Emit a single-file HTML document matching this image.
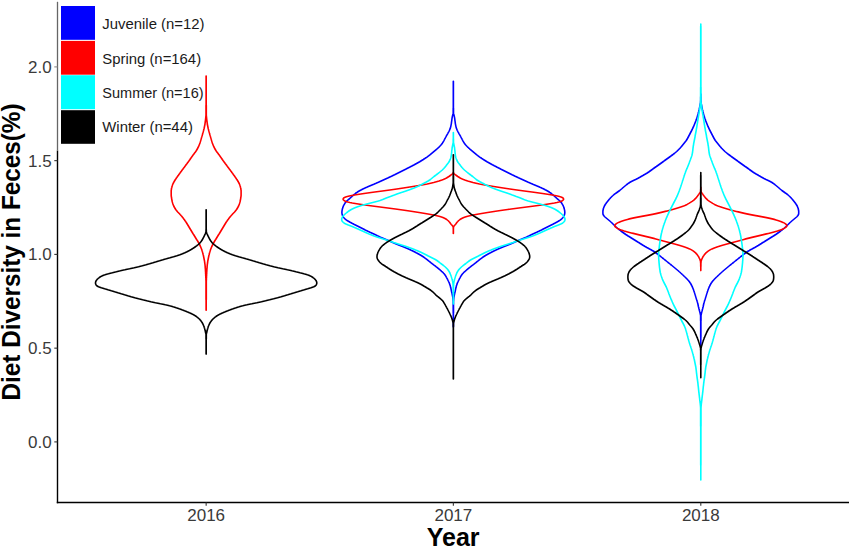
<!DOCTYPE html>
<html><head><meta charset="utf-8"><style>
html,body{margin:0;padding:0;background:#fff;}
svg{display:block;}
text{font-family:"Liberation Sans",sans-serif;}
</style></head><body>
<svg width="851" height="548" viewBox="0 0 851 548">
<rect width="851" height="548" fill="#fff"/>
<g><path d="M453.4,81.3 453.4,81.8 453.4,82.3 453.4,82.8 453.4,83.3 453.4,83.8 453.4,84.3 453.4,84.8 453.4,85.3 453.4,85.8 453.4,86.3 453.4,86.8 453.4,87.3 453.4,87.8 453.4,88.3 453.4,88.8 453.4,89.3 453.4,89.8 453.4,90.3 453.4,90.8 453.4,91.3 453.4,91.8 453.4,92.3 453.4,92.8 453.4,93.3 453.4,93.8 453.4,94.3 453.4,94.8 453.4,95.3 453.4,95.8 453.4,96.3 453.4,96.8 453.4,97.3 453.4,97.8 453.4,98.3 453.4,98.8 453.4,99.3 453.4,99.8 453.4,100.3 453.4,100.8 453.4,101.3 453.4,101.8 453.4,102.3 453.4,102.8 453.4,103.3 453.4,103.8 453.4,104.3 453.4,104.8 453.4,105.3 453.4,105.8 453.4,106.3 453.4,106.8 453.4,107.3 453.4,107.8 453.5,108.3 453.5,108.8 453.5,109.3 453.5,109.8 453.5,110.3 453.5,110.8 453.5,111.3 453.5,111.8 453.5,112.3 453.5,112.8 453.5,113.3 453.5,113.8 453.7,114.3 453.8,114.8 454.0,115.3 454.2,115.8 454.3,116.3 454.4,116.8 454.5,117.3 454.6,117.8 454.7,118.3 454.7,118.8 454.8,119.3 454.9,119.8 454.9,120.3 455.0,120.8 455.1,121.3 455.1,121.8 455.2,122.3 455.3,122.8 455.3,123.3 455.4,123.8 455.5,124.3 455.6,124.8 455.7,125.3 455.8,125.8 455.9,126.3 456.0,126.8 456.1,127.3 456.3,127.8 456.4,128.3 456.6,128.8 456.8,129.3 457.0,129.8 457.2,130.3 457.5,130.8 457.7,131.3 458.0,131.8 458.3,132.3 458.6,132.8 458.8,133.3 459.1,133.8 459.4,134.3 459.7,134.8 460.0,135.3 460.3,135.8 460.5,136.3 460.8,136.8 461.1,137.3 461.3,137.8 461.6,138.3 461.9,138.8 462.1,139.3 462.4,139.8 462.6,140.3 462.9,140.8 463.2,141.3 463.5,141.8 463.7,142.3 464.1,142.8 464.4,143.3 464.7,143.8 465.1,144.3 465.5,144.8 466.0,145.3 466.4,145.8 466.9,146.3 467.4,146.8 468.0,147.3 468.5,147.8 469.1,148.3 469.6,148.8 470.2,149.3 470.8,149.8 471.4,150.3 472.0,150.8 472.6,151.3 473.2,151.8 473.8,152.3 474.4,152.8 475.0,153.3 475.6,153.8 476.2,154.3 476.8,154.8 477.5,155.3 478.1,155.8 478.8,156.3 479.4,156.8 480.1,157.3 480.8,157.8 481.6,158.3 482.3,158.8 483.1,159.3 483.8,159.8 484.6,160.3 485.4,160.8 486.2,161.3 487.0,161.8 487.9,162.3 488.8,162.8 489.7,163.3 490.6,163.8 491.5,164.3 492.4,164.8 493.4,165.3 494.3,165.8 495.3,166.3 496.3,166.8 497.2,167.3 498.2,167.8 499.2,168.3 500.2,168.8 501.1,169.3 502.1,169.8 503.1,170.3 504.1,170.8 505.1,171.3 506.1,171.8 507.1,172.3 508.1,172.8 509.1,173.3 510.1,173.8 511.1,174.3 512.1,174.8 513.2,175.3 514.2,175.8 515.2,176.3 516.3,176.8 517.4,177.3 518.4,177.8 519.5,178.3 520.6,178.8 521.7,179.3 522.8,179.8 523.9,180.3 525.0,180.8 526.1,181.3 527.2,181.8 528.3,182.3 529.5,182.8 530.6,183.3 531.8,183.8 532.9,184.3 534.1,184.8 535.3,185.3 536.5,185.8 537.7,186.3 538.9,186.8 540.0,187.3 541.2,187.8 542.2,188.3 543.3,188.8 544.3,189.3 545.2,189.8 546.2,190.3 547.1,190.8 548.0,191.3 548.8,191.8 549.6,192.3 550.3,192.8 551.1,193.3 551.7,193.8 552.4,194.3 553.0,194.8 553.5,195.3 554.1,195.8 554.6,196.3 555.2,196.8 555.7,197.3 556.3,197.8 556.8,198.3 557.4,198.8 558.0,199.3 558.6,199.8 559.1,200.3 559.7,200.8 560.2,201.3 560.6,201.8 561.0,202.3 561.4,202.8 561.8,203.3 562.1,203.8 562.4,204.3 562.7,204.8 563.0,205.3 563.2,205.8 563.4,206.3 563.6,206.8 563.8,207.3 563.9,207.8 564.1,208.3 564.2,208.8 564.4,209.3 564.5,209.8 564.6,210.3 564.7,210.8 564.7,211.3 564.8,211.8 564.8,212.3 564.8,212.8 564.7,213.3 564.7,213.8 564.6,214.3 564.4,214.8 564.3,215.3 564.1,215.8 563.9,216.3 563.6,216.8 563.2,217.3 562.8,217.8 562.3,218.3 561.8,218.8 561.1,219.3 560.5,219.8 559.8,220.3 559.1,220.8 558.3,221.3 557.4,221.8 556.6,222.3 555.6,222.8 554.7,223.3 553.7,223.8 552.8,224.3 551.8,224.8 550.8,225.3 549.8,225.8 548.8,226.3 547.8,226.8 546.8,227.3 545.8,227.8 544.8,228.3 543.8,228.8 542.8,229.3 541.9,229.8 540.9,230.3 539.8,230.8 538.8,231.3 537.7,231.8 536.7,232.3 535.6,232.8 534.5,233.3 533.4,233.8 532.3,234.3 531.3,234.8 530.3,235.3 529.3,235.8 528.2,236.3 527.2,236.8 526.1,237.3 524.9,237.8 523.7,238.3 522.5,238.8 521.3,239.3 520.1,239.8 518.9,240.3 517.8,240.8 516.7,241.3 515.6,241.8 514.5,242.3 513.4,242.8 512.2,243.3 511.1,243.8 509.9,244.3 508.6,244.8 507.4,245.3 506.1,245.8 504.8,246.3 503.5,246.8 502.3,247.3 501.1,247.8 499.9,248.3 498.7,248.8 497.6,249.3 496.5,249.8 495.5,250.3 494.4,250.8 493.4,251.3 492.4,251.8 491.4,252.3 490.5,252.8 489.5,253.3 488.6,253.8 487.7,254.3 486.8,254.8 485.9,255.3 485.1,255.8 484.3,256.3 483.5,256.8 482.7,257.3 482.0,257.8 481.3,258.3 480.6,258.8 479.9,259.3 479.3,259.8 478.7,260.3 478.1,260.8 477.4,261.3 476.8,261.8 476.2,262.3 475.6,262.8 474.9,263.3 474.3,263.8 473.6,264.3 473.0,264.8 472.3,265.3 471.6,265.8 471.0,266.3 470.4,266.8 469.7,267.3 469.1,267.8 468.5,268.3 467.9,268.8 467.3,269.3 466.7,269.8 466.2,270.3 465.6,270.8 465.1,271.3 464.5,271.8 464.0,272.3 463.5,272.8 463.1,273.3 462.6,273.8 462.2,274.3 461.8,274.8 461.5,275.3 461.1,275.8 460.8,276.3 460.5,276.8 460.3,277.3 460.0,277.8 459.7,278.3 459.4,278.8 459.2,279.3 458.9,279.8 458.7,280.3 458.4,280.8 458.2,281.3 458.0,281.8 457.7,282.3 457.5,282.8 457.3,283.3 457.2,283.8 457.0,284.3 456.8,284.8 456.6,285.3 456.5,285.8 456.3,286.3 456.2,286.8 456.1,287.3 456.0,287.8 455.8,288.3 455.7,288.8 455.6,289.3 455.5,289.8 455.4,290.3 455.3,290.8 455.2,291.3 455.1,291.8 455.0,292.3 454.8,292.8 454.7,293.3 454.6,293.8 454.5,294.3 454.4,294.8 454.3,295.3 454.2,295.8 454.1,296.3 454.0,296.8 453.9,297.3 453.8,297.8 453.8,298.3 453.7,298.8 453.7,299.3 453.6,299.8 453.6,300.3 453.6,300.8 453.5,301.3 453.5,301.8 453.5,302.3 453.5,302.8 453.5,303.3 453.5,303.8 453.5,304.3 453.5,304.8 453.5,305.3 453.5,305.8 453.5,306.3 453.5,306.8 453.5,307.3 453.5,307.8 453.5,308.3 453.5,308.8 453.5,309.3 453.5,309.8 453.5,310.3 453.5,310.8 453.5,311.3 453.5,311.8 453.5,312.3 453.5,312.8 453.4,313.3 453.4,313.8 453.4,314.3 453.4,314.8 453.4,315.3 453.4,315.8 453.4,316.3 453.4,316.8 453.4,317.3 453.4,317.8 453.4,318.3 453.4,318.8 453.4,319.3 453.4,319.8 453.4,320.3 453.4,320.8 453.4,321.3 453.4,321.8 453.4,322.3 453.4,322.8 453.4,323.3 453.4,323.8 453.4,324.3 453.4,324.8 453.4,325.3 453.4,325.8 453.4,326.3 453.4,326.8 453.4,327.0 453.3,327.0 453.3,326.8 453.3,326.3 453.3,325.8 453.3,325.3 453.3,324.8 453.3,324.3 453.3,323.8 453.3,323.3 453.3,322.8 453.3,322.3 453.3,321.8 453.3,321.3 453.3,320.8 453.3,320.3 453.3,319.8 453.3,319.3 453.3,318.8 453.3,318.3 453.3,317.8 453.3,317.3 453.3,316.8 453.3,316.3 453.3,315.8 453.3,315.3 453.3,314.8 453.3,314.3 453.3,313.8 453.3,313.3 453.2,312.8 453.2,312.3 453.2,311.8 453.2,311.3 453.2,310.8 453.2,310.3 453.2,309.8 453.2,309.3 453.2,308.8 453.2,308.3 453.2,307.8 453.2,307.3 453.2,306.8 453.2,306.3 453.2,305.8 453.2,305.3 453.2,304.8 453.2,304.3 453.2,303.8 453.2,303.3 453.2,302.8 453.2,302.3 453.2,301.8 453.2,301.3 453.1,300.8 453.1,300.3 453.1,299.8 453.0,299.3 453.0,298.8 452.9,298.3 452.9,297.8 452.8,297.3 452.7,296.8 452.6,296.3 452.5,295.8 452.4,295.3 452.3,294.8 452.2,294.3 452.1,293.8 452.0,293.3 451.9,292.8 451.7,292.3 451.6,291.8 451.5,291.3 451.4,290.8 451.3,290.3 451.2,289.8 451.1,289.3 451.0,288.8 450.9,288.3 450.7,287.8 450.6,287.3 450.5,286.8 450.4,286.3 450.2,285.8 450.1,285.3 449.9,284.8 449.7,284.3 449.5,283.8 449.4,283.3 449.2,282.8 449.0,282.3 448.7,281.8 448.5,281.3 448.3,280.8 448.0,280.3 447.8,279.8 447.5,279.3 447.3,278.8 447.0,278.3 446.7,277.8 446.4,277.3 446.2,276.8 445.9,276.3 445.6,275.8 445.2,275.3 444.9,274.8 444.5,274.3 444.1,273.8 443.6,273.3 443.2,272.8 442.7,272.3 442.2,271.8 441.6,271.3 441.1,270.8 440.5,270.3 440.0,269.8 439.4,269.3 438.8,268.8 438.2,268.3 437.6,267.8 437.0,267.3 436.3,266.8 435.7,266.3 435.1,265.8 434.4,265.3 433.7,264.8 433.1,264.3 432.4,263.8 431.8,263.3 431.1,262.8 430.5,262.3 429.9,261.8 429.3,261.3 428.6,260.8 428.0,260.3 427.4,259.8 426.8,259.3 426.1,258.8 425.4,258.3 424.7,257.8 424.0,257.3 423.2,256.8 422.4,256.3 421.6,255.8 420.8,255.3 419.9,254.8 419.0,254.3 418.1,253.8 417.2,253.3 416.2,252.8 415.3,252.3 414.3,251.8 413.3,251.3 412.3,250.8 411.2,250.3 410.2,249.8 409.1,249.3 408.0,248.8 406.8,248.3 405.6,247.8 404.4,247.3 403.2,246.8 401.9,246.3 400.6,245.8 399.3,245.3 398.1,244.8 396.8,244.3 395.6,243.8 394.5,243.3 393.3,242.8 392.2,242.3 391.1,241.8 390.0,241.3 388.9,240.8 387.8,240.3 386.6,239.8 385.4,239.3 384.2,238.8 383.0,238.3 381.8,237.8 380.6,237.3 379.5,236.8 378.5,236.3 377.4,235.8 376.4,235.3 375.4,234.8 374.4,234.3 373.3,233.8 372.2,233.3 371.1,232.8 370.0,232.3 369.0,231.8 367.9,231.3 366.9,230.8 365.8,230.3 364.8,229.8 363.9,229.3 362.9,228.8 361.9,228.3 360.9,227.8 359.9,227.3 358.9,226.8 357.9,226.3 356.9,225.8 355.9,225.3 354.9,224.8 353.9,224.3 353.0,223.8 352.0,223.3 351.1,222.8 350.1,222.3 349.3,221.8 348.4,221.3 347.6,220.8 346.9,220.3 346.2,219.8 345.6,219.3 344.9,218.8 344.4,218.3 343.9,217.8 343.5,217.3 343.1,216.8 342.8,216.3 342.6,215.8 342.4,215.3 342.3,214.8 342.1,214.3 342.0,213.8 342.0,213.3 341.9,212.8 341.9,212.3 341.9,211.8 342.0,211.3 342.0,210.8 342.1,210.3 342.2,209.8 342.3,209.3 342.5,208.8 342.6,208.3 342.8,207.8 342.9,207.3 343.1,206.8 343.3,206.3 343.5,205.8 343.7,205.3 344.0,204.8 344.3,204.3 344.6,203.8 344.9,203.3 345.3,202.8 345.7,202.3 346.1,201.8 346.5,201.3 347.0,200.8 347.6,200.3 348.1,199.8 348.7,199.3 349.3,198.8 349.9,198.3 350.4,197.8 351.0,197.3 351.5,196.8 352.1,196.3 352.6,195.8 353.2,195.3 353.7,194.8 354.3,194.3 355.0,193.8 355.6,193.3 356.4,192.8 357.1,192.3 357.9,191.8 358.7,191.3 359.6,190.8 360.5,190.3 361.5,189.8 362.4,189.3 363.4,188.8 364.5,188.3 365.5,187.8 366.7,187.3 367.8,186.8 369.0,186.3 370.2,185.8 371.4,185.3 372.6,184.8 373.8,184.3 374.9,183.8 376.1,183.3 377.2,182.8 378.4,182.3 379.5,181.8 380.6,181.3 381.7,180.8 382.8,180.3 383.9,179.8 385.0,179.3 386.1,178.8 387.2,178.3 388.3,177.8 389.3,177.3 390.4,176.8 391.5,176.3 392.5,175.8 393.5,175.3 394.6,174.8 395.6,174.3 396.6,173.8 397.6,173.3 398.6,172.8 399.6,172.3 400.6,171.8 401.6,171.3 402.6,170.8 403.6,170.3 404.6,169.8 405.6,169.3 406.5,168.8 407.5,168.3 408.5,167.8 409.5,167.3 410.4,166.8 411.4,166.3 412.4,165.8 413.3,165.3 414.3,164.8 415.2,164.3 416.1,163.8 417.0,163.3 417.9,162.8 418.8,162.3 419.7,161.8 420.5,161.3 421.3,160.8 422.1,160.3 422.9,159.8 423.6,159.3 424.4,158.8 425.1,158.3 425.9,157.8 426.6,157.3 427.3,156.8 427.9,156.3 428.6,155.8 429.2,155.3 429.9,154.8 430.5,154.3 431.1,153.8 431.7,153.3 432.3,152.8 432.9,152.3 433.5,151.8 434.1,151.3 434.7,150.8 435.3,150.3 435.9,149.8 436.5,149.3 437.1,148.8 437.6,148.3 438.2,147.8 438.7,147.3 439.3,146.8 439.8,146.3 440.3,145.8 440.7,145.3 441.2,144.8 441.6,144.3 442.0,143.8 442.3,143.3 442.6,142.8 443.0,142.3 443.2,141.8 443.5,141.3 443.8,140.8 444.1,140.3 444.3,139.8 444.6,139.3 444.8,138.8 445.1,138.3 445.4,137.8 445.6,137.3 445.9,136.8 446.2,136.3 446.4,135.8 446.7,135.3 447.0,134.8 447.3,134.3 447.6,133.8 447.9,133.3 448.1,132.8 448.4,132.3 448.7,131.8 449.0,131.3 449.2,130.8 449.5,130.3 449.7,129.8 449.9,129.3 450.1,128.8 450.3,128.3 450.4,127.8 450.6,127.3 450.7,126.8 450.8,126.3 450.9,125.8 451.0,125.3 451.1,124.8 451.2,124.3 451.3,123.8 451.4,123.3 451.4,122.8 451.5,122.3 451.6,121.8 451.6,121.3 451.7,120.8 451.8,120.3 451.8,119.8 451.9,119.3 452.0,118.8 452.0,118.3 452.1,117.8 452.2,117.3 452.3,116.8 452.4,116.3 452.5,115.8 452.7,115.3 452.9,114.8 453.0,114.3 453.2,113.8 453.2,113.3 453.2,112.8 453.2,112.3 453.2,111.8 453.2,111.3 453.2,110.8 453.2,110.3 453.2,109.8 453.2,109.3 453.2,108.8 453.2,108.3 453.3,107.8 453.3,107.3 453.3,106.8 453.3,106.3 453.3,105.8 453.3,105.3 453.3,104.8 453.3,104.3 453.3,103.8 453.3,103.3 453.3,102.8 453.3,102.3 453.3,101.8 453.3,101.3 453.3,100.8 453.3,100.3 453.3,99.8 453.3,99.3 453.3,98.8 453.3,98.3 453.3,97.8 453.3,97.3 453.3,96.8 453.3,96.3 453.3,95.8 453.3,95.3 453.3,94.8 453.3,94.3 453.3,93.8 453.3,93.3 453.3,92.8 453.3,92.3 453.3,91.8 453.3,91.3 453.3,90.8 453.3,90.3 453.3,89.8 453.3,89.3 453.3,88.8 453.3,88.3 453.3,87.8 453.3,87.3 453.3,86.8 453.3,86.3 453.3,85.8 453.3,85.3 453.3,84.8 453.3,84.3 453.3,83.8 453.3,83.3 453.3,82.8 453.3,82.3 453.3,81.8 453.3,81.3Z" fill="none" stroke="#0000FF" stroke-width="1.6" stroke-linejoin="round"/><path d="M700.8,94.0 700.8,94.5 700.8,95.0 700.8,95.5 700.8,96.0 700.8,96.5 700.9,97.0 700.9,97.5 700.9,98.0 700.9,98.5 700.9,99.0 700.9,99.5 700.9,100.0 700.9,100.5 701.0,101.0 701.0,101.5 701.0,102.0 701.0,102.5 701.1,103.0 701.2,103.5 701.3,104.0 701.4,104.5 701.5,105.0 701.6,105.5 701.7,106.0 701.8,106.5 701.9,107.0 702.0,107.5 702.1,108.0 702.2,108.5 702.3,109.0 702.4,109.5 702.5,110.0 702.7,110.5 702.8,111.0 702.9,111.5 703.0,112.0 703.2,112.5 703.3,113.0 703.4,113.5 703.6,114.0 703.7,114.5 703.9,115.0 704.0,115.5 704.2,116.0 704.3,116.5 704.5,117.0 704.6,117.5 704.8,118.0 704.9,118.5 705.1,119.0 705.3,119.5 705.5,120.0 705.6,120.5 705.8,121.0 706.0,121.5 706.2,122.0 706.4,122.5 706.6,123.0 706.8,123.5 707.0,124.0 707.2,124.5 707.4,125.0 707.6,125.5 707.8,126.0 708.0,126.5 708.3,127.0 708.5,127.5 708.7,128.0 709.0,128.5 709.2,129.0 709.4,129.5 709.7,130.0 709.9,130.5 710.2,131.0 710.4,131.5 710.7,132.0 711.0,132.5 711.2,133.0 711.5,133.5 711.7,134.0 712.0,134.5 712.3,135.0 712.5,135.5 712.8,136.0 713.0,136.5 713.3,137.0 713.6,137.5 713.8,138.0 714.1,138.5 714.4,139.0 714.7,139.5 715.0,140.0 715.3,140.5 715.7,141.0 716.1,141.5 716.5,142.0 716.9,142.5 717.3,143.0 717.7,143.5 718.1,144.0 718.5,144.5 718.9,145.0 719.3,145.5 719.7,146.0 720.1,146.5 720.6,147.0 721.0,147.5 721.4,148.0 721.9,148.5 722.4,149.0 722.9,149.5 723.4,150.0 723.9,150.5 724.4,151.0 724.9,151.5 725.5,152.0 726.1,152.5 726.7,153.0 727.3,153.5 728.0,154.0 728.6,154.5 729.3,155.0 730.0,155.5 730.7,156.0 731.3,156.5 732.0,157.0 732.7,157.5 733.4,158.0 734.1,158.5 734.8,159.0 735.5,159.5 736.2,160.0 736.9,160.5 737.6,161.0 738.2,161.5 738.9,162.0 739.6,162.5 740.3,163.0 741.0,163.5 741.7,164.0 742.4,164.5 743.1,165.0 743.8,165.5 744.5,166.0 745.2,166.5 746.0,167.0 746.7,167.5 747.4,168.0 748.1,168.5 748.8,169.0 749.4,169.5 750.1,170.0 750.8,170.5 751.5,171.0 752.2,171.5 752.9,172.0 753.7,172.5 754.4,173.0 755.3,173.5 756.1,174.0 757.0,174.5 757.9,175.0 758.7,175.5 759.6,176.0 760.5,176.5 761.3,177.0 762.2,177.5 763.1,178.0 764.0,178.5 765.0,179.0 766.0,179.5 767.1,180.0 768.2,180.5 769.2,181.0 770.2,181.5 771.1,182.0 772.0,182.5 772.7,183.0 773.5,183.5 774.1,184.0 774.8,184.5 775.4,185.0 776.0,185.5 776.6,186.0 777.2,186.5 777.8,187.0 778.4,187.5 779.0,188.0 779.5,188.5 780.1,189.0 780.7,189.5 781.3,190.0 781.9,190.5 782.6,191.0 783.3,191.5 784.0,192.0 784.7,192.5 785.4,193.0 786.2,193.5 786.8,194.0 787.5,194.5 788.1,195.0 788.6,195.5 789.2,196.0 789.7,196.5 790.2,197.0 790.7,197.5 791.2,198.0 791.6,198.5 792.1,199.0 792.5,199.5 792.9,200.0 793.3,200.5 793.7,201.0 794.1,201.5 794.5,202.0 794.9,202.5 795.3,203.0 795.6,203.5 796.0,204.0 796.3,204.5 796.6,205.0 796.9,205.5 797.2,206.0 797.4,206.5 797.6,207.0 797.8,207.5 798.0,208.0 798.2,208.5 798.3,209.0 798.4,209.5 798.5,210.0 798.6,210.5 798.7,211.0 798.7,211.5 798.7,212.0 798.7,212.5 798.7,213.0 798.7,213.5 798.6,214.0 798.5,214.5 798.2,215.0 797.9,215.5 797.5,216.0 797.1,216.5 796.6,217.0 796.0,217.5 795.4,218.0 794.8,218.5 794.2,219.0 793.6,219.5 793.0,220.0 792.4,220.5 791.8,221.0 791.2,221.5 790.7,222.0 790.1,222.5 789.6,223.0 789.1,223.5 788.6,224.0 788.1,224.5 787.6,225.0 787.1,225.5 786.6,226.0 786.1,226.5 785.5,227.0 784.9,227.5 784.4,228.0 783.8,228.5 783.2,229.0 782.6,229.5 781.9,230.0 781.3,230.5 780.7,231.0 780.0,231.5 779.3,232.0 778.6,232.5 777.9,233.0 777.2,233.5 776.5,234.0 775.8,234.5 775.0,235.0 774.2,235.5 773.5,236.0 772.6,236.5 771.8,237.0 771.0,237.5 770.2,238.0 769.4,238.5 768.6,239.0 767.8,239.5 767.0,240.0 766.2,240.5 765.4,241.0 764.6,241.5 763.8,242.0 762.9,242.5 762.1,243.0 761.4,243.5 760.6,244.0 759.8,244.5 759.0,245.0 758.2,245.5 757.3,246.0 756.5,246.5 755.6,247.0 754.8,247.5 753.8,248.0 752.9,248.5 752.0,249.0 751.0,249.5 750.1,250.0 749.3,250.5 748.4,251.0 747.6,251.5 746.9,252.0 746.2,252.5 745.5,253.0 744.8,253.5 744.1,254.0 743.5,254.5 742.8,255.0 742.2,255.5 741.6,256.0 740.9,256.5 740.3,257.0 739.7,257.5 739.1,258.0 738.4,258.5 737.8,259.0 737.2,259.5 736.6,260.0 735.9,260.5 735.3,261.0 734.7,261.5 734.1,262.0 733.5,262.5 732.8,263.0 732.2,263.5 731.6,264.0 731.0,264.5 730.3,265.0 729.7,265.5 729.1,266.0 728.5,266.5 727.9,267.0 727.3,267.5 726.7,268.0 726.1,268.5 725.5,269.0 724.9,269.5 724.3,270.0 723.7,270.5 723.1,271.0 722.6,271.5 722.0,272.0 721.4,272.5 720.9,273.0 720.3,273.5 719.8,274.0 719.3,274.5 718.7,275.0 718.2,275.5 717.7,276.0 717.2,276.5 716.6,277.0 716.1,277.5 715.6,278.0 715.1,278.5 714.6,279.0 714.1,279.5 713.7,280.0 713.2,280.5 712.8,281.0 712.4,281.5 712.0,282.0 711.7,282.5 711.3,283.0 711.0,283.5 710.7,284.0 710.5,284.5 710.2,285.0 709.9,285.5 709.7,286.0 709.5,286.5 709.2,287.0 709.0,287.5 708.8,288.0 708.6,288.5 708.4,289.0 708.2,289.5 708.0,290.0 707.8,290.5 707.7,291.0 707.5,291.5 707.3,292.0 707.2,292.5 707.0,293.0 706.8,293.5 706.7,294.0 706.5,294.5 706.4,295.0 706.2,295.5 706.1,296.0 705.9,296.5 705.8,297.0 705.6,297.5 705.5,298.0 705.3,298.5 705.2,299.0 705.0,299.5 704.9,300.0 704.7,300.5 704.5,301.0 704.4,301.5 704.2,302.0 704.1,302.5 704.0,303.0 703.8,303.5 703.7,304.0 703.6,304.5 703.5,305.0 703.4,305.5 703.3,306.0 703.2,306.5 703.1,307.0 702.9,307.5 702.8,308.0 702.7,308.5 702.6,309.0 702.4,309.5 702.3,310.0 702.2,310.5 702.0,311.0 701.9,311.5 701.8,312.0 701.6,312.5 701.5,313.0 701.4,313.5 701.3,314.0 701.2,314.5 701.1,315.0 701.0,315.5 701.0,316.0 701.0,316.5 701.0,317.0 701.0,317.5 701.0,318.0 701.0,318.5 701.0,319.0 701.0,319.5 701.0,320.0 701.0,320.5 700.9,321.0 700.9,321.5 700.9,322.0 700.9,322.5 700.9,323.0 700.9,323.5 700.9,324.0 700.9,324.5 700.9,325.0 700.9,325.5 700.9,326.0 700.9,326.5 700.9,327.0 700.9,327.5 700.9,328.0 700.9,328.5 700.9,329.0 700.9,329.5 700.9,330.0 700.9,330.5 700.9,331.0 700.9,331.5 700.9,332.0 700.9,332.5 700.9,333.0 700.9,333.5 700.9,334.0 700.9,334.5 700.9,335.0 700.9,335.5 700.9,336.0 700.9,336.5 700.9,337.0 700.8,337.5 700.8,338.0 700.8,338.5 700.8,339.0 700.8,339.5 700.8,340.0 700.8,340.5 700.8,341.0 700.8,341.5 700.8,342.0 700.8,342.5 700.8,343.0 700.8,343.5 700.8,344.0 700.8,344.5 700.8,345.0 700.8,345.5 700.8,346.0 700.8,346.5 700.8,347.0 700.8,347.5 700.8,348.0 700.8,348.0 700.8,347.5 700.8,347.0 700.8,346.5 700.8,346.0 700.8,345.5 700.8,345.0 700.8,344.5 700.8,344.0 700.8,343.5 700.8,343.0 700.8,342.5 700.8,342.0 700.8,341.5 700.8,341.0 700.8,340.5 700.8,340.0 700.8,339.5 700.8,339.0 700.8,338.5 700.8,338.0 700.8,337.5 700.7,337.0 700.7,336.5 700.7,336.0 700.7,335.5 700.7,335.0 700.7,334.5 700.7,334.0 700.7,333.5 700.7,333.0 700.7,332.5 700.7,332.0 700.7,331.5 700.7,331.0 700.7,330.5 700.7,330.0 700.7,329.5 700.7,329.0 700.7,328.5 700.7,328.0 700.7,327.5 700.7,327.0 700.7,326.5 700.7,326.0 700.7,325.5 700.7,325.0 700.7,324.5 700.7,324.0 700.7,323.5 700.7,323.0 700.7,322.5 700.7,322.0 700.7,321.5 700.7,321.0 700.6,320.5 700.6,320.0 700.6,319.5 700.6,319.0 700.6,318.5 700.6,318.0 700.6,317.5 700.6,317.0 700.6,316.5 700.6,316.0 700.6,315.5 700.5,315.0 700.4,314.5 700.3,314.0 700.2,313.5 700.1,313.0 700.0,312.5 699.8,312.0 699.7,311.5 699.6,311.0 699.4,310.5 699.3,310.0 699.2,309.5 699.0,309.0 698.9,308.5 698.8,308.0 698.7,307.5 698.5,307.0 698.4,306.5 698.3,306.0 698.2,305.5 698.1,305.0 698.0,304.5 697.9,304.0 697.8,303.5 697.6,303.0 697.5,302.5 697.4,302.0 697.2,301.5 697.1,301.0 696.9,300.5 696.7,300.0 696.6,299.5 696.4,299.0 696.3,298.5 696.1,298.0 696.0,297.5 695.8,297.0 695.7,296.5 695.5,296.0 695.4,295.5 695.2,295.0 695.1,294.5 694.9,294.0 694.8,293.5 694.6,293.0 694.4,292.5 694.3,292.0 694.1,291.5 693.9,291.0 693.8,290.5 693.6,290.0 693.4,289.5 693.2,289.0 693.0,288.5 692.8,288.0 692.6,287.5 692.4,287.0 692.1,286.5 691.9,286.0 691.7,285.5 691.4,285.0 691.1,284.5 690.9,284.0 690.6,283.5 690.3,283.0 689.9,282.5 689.6,282.0 689.2,281.5 688.8,281.0 688.4,280.5 687.9,280.0 687.5,279.5 687.0,279.0 686.5,278.5 686.0,278.0 685.5,277.5 685.0,277.0 684.4,276.5 683.9,276.0 683.4,275.5 682.9,275.0 682.3,274.5 681.8,274.0 681.3,273.5 680.7,273.0 680.2,272.5 679.6,272.0 679.0,271.5 678.5,271.0 677.9,270.5 677.3,270.0 676.7,269.5 676.1,269.0 675.5,268.5 674.9,268.0 674.3,267.5 673.7,267.0 673.1,266.5 672.5,266.0 671.9,265.5 671.3,265.0 670.6,264.5 670.0,264.0 669.4,263.5 668.8,263.0 668.1,262.5 667.5,262.0 666.9,261.5 666.3,261.0 665.7,260.5 665.0,260.0 664.4,259.5 663.8,259.0 663.2,258.5 662.5,258.0 661.9,257.5 661.3,257.0 660.7,256.5 660.0,256.0 659.4,255.5 658.8,255.0 658.1,254.5 657.5,254.0 656.8,253.5 656.1,253.0 655.4,252.5 654.7,252.0 654.0,251.5 653.2,251.0 652.3,250.5 651.5,250.0 650.6,249.5 649.6,249.0 648.7,248.5 647.8,248.0 646.8,247.5 646.0,247.0 645.1,246.5 644.3,246.0 643.4,245.5 642.6,245.0 641.8,244.5 641.0,244.0 640.2,243.5 639.5,243.0 638.7,242.5 637.8,242.0 637.0,241.5 636.2,241.0 635.4,240.5 634.6,240.0 633.8,239.5 633.0,239.0 632.2,238.5 631.4,238.0 630.6,237.5 629.8,237.0 629.0,236.5 628.1,236.0 627.4,235.5 626.6,235.0 625.8,234.5 625.1,234.0 624.4,233.5 623.7,233.0 623.0,232.5 622.3,232.0 621.6,231.5 620.9,231.0 620.3,230.5 619.7,230.0 619.0,229.5 618.4,229.0 617.8,228.5 617.2,228.0 616.7,227.5 616.1,227.0 615.5,226.5 615.0,226.0 614.5,225.5 614.0,225.0 613.5,224.5 613.0,224.0 612.5,223.5 612.0,223.0 611.5,222.5 610.9,222.0 610.4,221.5 609.8,221.0 609.2,220.5 608.6,220.0 608.0,219.5 607.4,219.0 606.8,218.5 606.2,218.0 605.6,217.5 605.0,217.0 604.5,216.5 604.1,216.0 603.7,215.5 603.4,215.0 603.1,214.5 603.0,214.0 602.9,213.5 602.9,213.0 602.9,212.5 602.9,212.0 602.9,211.5 602.9,211.0 603.0,210.5 603.1,210.0 603.2,209.5 603.3,209.0 603.4,208.5 603.6,208.0 603.8,207.5 604.0,207.0 604.2,206.5 604.4,206.0 604.7,205.5 605.0,205.0 605.3,204.5 605.6,204.0 606.0,203.5 606.3,203.0 606.7,202.5 607.1,202.0 607.5,201.5 607.9,201.0 608.3,200.5 608.7,200.0 609.1,199.5 609.5,199.0 610.0,198.5 610.4,198.0 610.9,197.5 611.4,197.0 611.9,196.5 612.4,196.0 613.0,195.5 613.5,195.0 614.1,194.5 614.8,194.0 615.4,193.5 616.2,193.0 616.9,192.5 617.6,192.0 618.3,191.5 619.0,191.0 619.7,190.5 620.3,190.0 620.9,189.5 621.5,189.0 622.1,188.5 622.6,188.0 623.2,187.5 623.8,187.0 624.4,186.5 625.0,186.0 625.6,185.5 626.2,185.0 626.8,184.5 627.5,184.0 628.1,183.5 628.9,183.0 629.6,182.5 630.5,182.0 631.4,181.5 632.4,181.0 633.4,180.5 634.5,180.0 635.6,179.5 636.6,179.0 637.6,178.5 638.5,178.0 639.4,177.5 640.3,177.0 641.1,176.5 642.0,176.0 642.9,175.5 643.7,175.0 644.6,174.5 645.5,174.0 646.3,173.5 647.2,173.0 647.9,172.5 648.7,172.0 649.4,171.5 650.1,171.0 650.8,170.5 651.5,170.0 652.2,169.5 652.8,169.0 653.5,168.5 654.2,168.0 654.9,167.5 655.6,167.0 656.4,166.5 657.1,166.0 657.8,165.5 658.5,165.0 659.2,164.5 659.9,164.0 660.6,163.5 661.3,163.0 662.0,162.5 662.7,162.0 663.4,161.5 664.0,161.0 664.7,160.5 665.4,160.0 666.1,159.5 666.8,159.0 667.5,158.5 668.2,158.0 668.9,157.5 669.6,157.0 670.3,156.5 670.9,156.0 671.6,155.5 672.3,155.0 673.0,154.5 673.6,154.0 674.3,153.5 674.9,153.0 675.5,152.5 676.1,152.0 676.7,151.5 677.2,151.0 677.7,150.5 678.2,150.0 678.7,149.5 679.2,149.0 679.7,148.5 680.2,148.0 680.6,147.5 681.0,147.0 681.5,146.5 681.9,146.0 682.3,145.5 682.7,145.0 683.1,144.5 683.5,144.0 683.9,143.5 684.3,143.0 684.7,142.5 685.1,142.0 685.5,141.5 685.9,141.0 686.3,140.5 686.6,140.0 686.9,139.5 687.2,139.0 687.5,138.5 687.8,138.0 688.0,137.5 688.3,137.0 688.6,136.5 688.8,136.0 689.1,135.5 689.3,135.0 689.6,134.5 689.9,134.0 690.1,133.5 690.4,133.0 690.6,132.5 690.9,132.0 691.2,131.5 691.4,131.0 691.7,130.5 691.9,130.0 692.2,129.5 692.4,129.0 692.6,128.5 692.9,128.0 693.1,127.5 693.3,127.0 693.6,126.5 693.8,126.0 694.0,125.5 694.2,125.0 694.4,124.5 694.6,124.0 694.8,123.5 695.0,123.0 695.2,122.5 695.4,122.0 695.6,121.5 695.8,121.0 696.0,120.5 696.1,120.0 696.3,119.5 696.5,119.0 696.7,118.5 696.8,118.0 697.0,117.5 697.1,117.0 697.3,116.5 697.4,116.0 697.6,115.5 697.7,115.0 697.9,114.5 698.0,114.0 698.2,113.5 698.3,113.0 698.4,112.5 698.6,112.0 698.7,111.5 698.8,111.0 698.9,110.5 699.1,110.0 699.2,109.5 699.3,109.0 699.4,108.5 699.5,108.0 699.6,107.5 699.7,107.0 699.8,106.5 699.9,106.0 700.0,105.5 700.1,105.0 700.2,104.5 700.3,104.0 700.4,103.5 700.5,103.0 700.6,102.5 700.6,102.0 700.6,101.5 700.6,101.0 700.7,100.5 700.7,100.0 700.7,99.5 700.7,99.0 700.7,98.5 700.7,98.0 700.7,97.5 700.7,97.0 700.8,96.5 700.8,96.0 700.8,95.5 700.8,95.0 700.8,94.5 700.8,94.0Z" fill="none" stroke="#0000FF" stroke-width="1.6" stroke-linejoin="round"/><path d="M206.2,76.0 206.2,76.5 206.2,77.0 206.2,77.5 206.2,78.0 206.2,78.5 206.2,79.0 206.2,79.5 206.2,80.0 206.2,80.5 206.2,81.0 206.2,81.5 206.2,82.0 206.2,82.5 206.2,83.0 206.2,83.5 206.2,84.0 206.2,84.5 206.2,85.0 206.2,85.5 206.2,86.0 206.2,86.5 206.2,87.0 206.2,87.5 206.2,88.0 206.2,88.5 206.2,89.0 206.2,89.5 206.2,90.0 206.2,90.5 206.2,91.0 206.2,91.5 206.2,92.0 206.2,92.5 206.2,93.0 206.2,93.5 206.2,94.0 206.2,94.5 206.2,95.0 206.2,95.5 206.2,96.0 206.2,96.5 206.2,97.0 206.2,97.5 206.2,98.0 206.2,98.5 206.2,99.0 206.2,99.5 206.2,100.0 206.2,100.5 206.2,101.0 206.2,101.5 206.2,102.0 206.2,102.5 206.2,103.0 206.2,103.5 206.2,104.0 206.2,104.5 206.2,105.0 206.3,105.5 206.3,106.0 206.3,106.5 206.3,107.0 206.3,107.5 206.3,108.0 206.3,108.5 206.3,109.0 206.3,109.5 206.3,110.0 206.3,110.5 206.3,111.0 206.3,111.5 206.3,112.0 206.3,112.5 206.3,113.0 206.3,113.5 206.3,114.0 206.3,114.5 206.3,115.0 206.3,115.5 206.4,116.0 206.4,116.5 206.5,117.0 206.5,117.5 206.6,118.0 206.6,118.5 206.7,119.0 206.7,119.5 206.8,120.0 206.9,120.5 206.9,121.0 207.0,121.5 207.1,122.0 207.1,122.5 207.2,123.0 207.3,123.5 207.3,124.0 207.4,124.5 207.5,125.0 207.6,125.5 207.7,126.0 207.8,126.5 207.9,127.0 208.0,127.5 208.1,128.0 208.2,128.5 208.3,129.0 208.5,129.5 208.6,130.0 208.7,130.5 208.9,131.0 209.0,131.5 209.1,132.0 209.3,132.5 209.4,133.0 209.6,133.5 209.7,134.0 209.8,134.5 210.0,135.0 210.1,135.5 210.3,136.0 210.4,136.5 210.6,137.0 210.7,137.5 210.9,138.0 211.0,138.5 211.2,139.0 211.3,139.5 211.4,140.0 211.6,140.5 211.7,141.0 211.9,141.5 212.0,142.0 212.2,142.5 212.3,143.0 212.5,143.5 212.7,144.0 212.9,144.5 213.1,145.0 213.3,145.5 213.5,146.0 213.7,146.5 214.0,147.0 214.2,147.5 214.5,148.0 214.7,148.5 215.0,149.0 215.3,149.5 215.6,150.0 215.9,150.5 216.2,151.0 216.6,151.5 216.9,152.0 217.3,152.5 217.7,153.0 218.1,153.5 218.4,154.0 218.8,154.5 219.2,155.0 219.6,155.5 219.9,156.0 220.3,156.5 220.6,157.0 221.0,157.5 221.3,158.0 221.7,158.5 222.0,159.0 222.3,159.5 222.7,160.0 223.0,160.5 223.4,161.0 223.8,161.5 224.1,162.0 224.5,162.5 224.9,163.0 225.2,163.5 225.6,164.0 226.0,164.5 226.4,165.0 226.7,165.5 227.1,166.0 227.5,166.5 227.8,167.0 228.2,167.5 228.6,168.0 229.0,168.5 229.3,169.0 229.7,169.5 230.1,170.0 230.5,170.5 230.8,171.0 231.2,171.5 231.6,172.0 231.9,172.5 232.3,173.0 232.7,173.5 233.0,174.0 233.4,174.5 233.7,175.0 234.1,175.5 234.5,176.0 234.8,176.5 235.2,177.0 235.5,177.5 235.9,178.0 236.2,178.5 236.5,179.0 236.9,179.5 237.2,180.0 237.5,180.5 237.8,181.0 238.1,181.5 238.4,182.0 238.6,182.5 238.9,183.0 239.2,183.5 239.4,184.0 239.6,184.5 239.8,185.0 240.0,185.5 240.1,186.0 240.3,186.5 240.4,187.0 240.5,187.5 240.7,188.0 240.8,188.5 240.9,189.0 240.9,189.5 241.0,190.0 241.1,190.5 241.1,191.0 241.1,191.5 241.1,192.0 241.1,192.5 241.1,193.0 241.1,193.5 241.1,194.0 241.1,194.5 241.1,195.0 241.1,195.5 241.0,196.0 241.0,196.5 240.9,197.0 240.8,197.5 240.7,198.0 240.7,198.5 240.6,199.0 240.5,199.5 240.4,200.0 240.3,200.5 240.2,201.0 240.1,201.5 240.0,202.0 239.8,202.5 239.7,203.0 239.5,203.5 239.4,204.0 239.2,204.5 239.0,205.0 238.8,205.5 238.6,206.0 238.3,206.5 238.1,207.0 237.8,207.5 237.5,208.0 237.2,208.5 236.9,209.0 236.6,209.5 236.2,210.0 235.8,210.5 235.4,211.0 235.0,211.5 234.6,212.0 234.1,212.5 233.6,213.0 233.1,213.5 232.6,214.0 232.2,214.5 231.7,215.0 231.3,215.5 230.8,216.0 230.4,216.5 230.0,217.0 229.6,217.5 229.2,218.0 228.8,218.5 228.5,219.0 228.1,219.5 227.7,220.0 227.4,220.5 227.0,221.0 226.7,221.5 226.3,222.0 226.0,222.5 225.7,223.0 225.4,223.5 225.1,224.0 224.8,224.5 224.5,225.0 224.2,225.5 223.9,226.0 223.6,226.5 223.3,227.0 223.0,227.5 222.7,228.0 222.4,228.5 222.1,229.0 221.8,229.5 221.5,230.0 221.2,230.5 220.9,231.0 220.6,231.5 220.3,232.0 220.0,232.5 219.7,233.0 219.4,233.5 219.1,234.0 218.7,234.5 218.4,235.0 218.1,235.5 217.8,236.0 217.5,236.5 217.2,237.0 216.9,237.5 216.6,238.0 216.3,238.5 216.0,239.0 215.7,239.5 215.3,240.0 215.0,240.5 214.7,241.0 214.4,241.5 214.1,242.0 213.9,242.5 213.6,243.0 213.3,243.5 213.0,244.0 212.8,244.5 212.5,245.0 212.3,245.5 212.1,246.0 211.8,246.5 211.6,247.0 211.4,247.5 211.2,248.0 211.0,248.5 210.8,249.0 210.6,249.5 210.4,250.0 210.3,250.5 210.1,251.0 210.0,251.5 209.8,252.0 209.7,252.5 209.5,253.0 209.4,253.5 209.3,254.0 209.2,254.5 209.0,255.0 208.9,255.5 208.8,256.0 208.7,256.5 208.6,257.0 208.5,257.5 208.4,258.0 208.3,258.5 208.2,259.0 208.1,259.5 208.0,260.0 207.9,260.5 207.8,261.0 207.7,261.5 207.7,262.0 207.6,262.5 207.5,263.0 207.5,263.5 207.4,264.0 207.3,264.5 207.3,265.0 207.2,265.5 207.2,266.0 207.1,266.5 207.1,267.0 207.1,267.5 207.0,268.0 207.0,268.5 206.9,269.0 206.9,269.5 206.9,270.0 206.8,270.5 206.8,271.0 206.8,271.5 206.7,272.0 206.7,272.5 206.7,273.0 206.7,273.5 206.6,274.0 206.6,274.5 206.6,275.0 206.6,275.5 206.5,276.0 206.5,276.5 206.5,277.0 206.5,277.5 206.4,278.0 206.4,278.5 206.4,279.0 206.4,279.5 206.4,280.0 206.3,280.5 206.3,281.0 206.3,281.5 206.3,282.0 206.3,282.5 206.3,283.0 206.3,283.5 206.3,284.0 206.3,284.5 206.3,285.0 206.3,285.5 206.3,286.0 206.3,286.5 206.3,287.0 206.3,287.5 206.3,288.0 206.3,288.5 206.3,289.0 206.3,289.5 206.3,290.0 206.3,290.5 206.3,291.0 206.3,291.5 206.3,292.0 206.3,292.5 206.3,293.0 206.3,293.5 206.3,294.0 206.3,294.5 206.3,295.0 206.3,295.5 206.3,296.0 206.3,296.5 206.3,297.0 206.3,297.5 206.3,298.0 206.3,298.5 206.3,299.0 206.3,299.5 206.2,300.0 206.2,300.5 206.2,301.0 206.2,301.5 206.2,302.0 206.2,302.5 206.2,303.0 206.2,303.5 206.2,304.0 206.2,304.5 206.2,305.0 206.2,305.5 206.2,306.0 206.2,306.5 206.2,307.0 206.2,307.5 206.2,308.0 206.2,308.5 206.2,309.0 206.2,309.5 206.2,310.0 206.2,310.3 206.1,310.3 206.1,310.0 206.1,309.5 206.1,309.0 206.1,308.5 206.1,308.0 206.1,307.5 206.1,307.0 206.1,306.5 206.1,306.0 206.1,305.5 206.1,305.0 206.1,304.5 206.1,304.0 206.1,303.5 206.1,303.0 206.1,302.5 206.1,302.0 206.1,301.5 206.1,301.0 206.1,300.5 206.1,300.0 206.0,299.5 206.0,299.0 206.0,298.5 206.0,298.0 206.0,297.5 206.0,297.0 206.0,296.5 206.0,296.0 206.0,295.5 206.0,295.0 206.0,294.5 206.0,294.0 206.0,293.5 206.0,293.0 206.0,292.5 206.0,292.0 206.0,291.5 206.0,291.0 206.0,290.5 206.0,290.0 206.0,289.5 206.0,289.0 206.0,288.5 206.0,288.0 206.0,287.5 206.0,287.0 206.0,286.5 206.0,286.0 206.0,285.5 206.0,285.0 206.0,284.5 206.0,284.0 206.0,283.5 206.0,283.0 206.0,282.5 206.0,282.0 206.0,281.5 206.0,281.0 206.0,280.5 205.9,280.0 205.9,279.5 205.9,279.0 205.9,278.5 205.9,278.0 205.8,277.5 205.8,277.0 205.8,276.5 205.8,276.0 205.7,275.5 205.7,275.0 205.7,274.5 205.7,274.0 205.6,273.5 205.6,273.0 205.6,272.5 205.6,272.0 205.5,271.5 205.5,271.0 205.5,270.5 205.4,270.0 205.4,269.5 205.4,269.0 205.3,268.5 205.3,268.0 205.2,267.5 205.2,267.0 205.2,266.5 205.1,266.0 205.1,265.5 205.0,265.0 205.0,264.5 204.9,264.0 204.8,263.5 204.8,263.0 204.7,262.5 204.6,262.0 204.6,261.5 204.5,261.0 204.4,260.5 204.3,260.0 204.2,259.5 204.1,259.0 204.0,258.5 203.9,258.0 203.8,257.5 203.7,257.0 203.6,256.5 203.5,256.0 203.4,255.5 203.3,255.0 203.1,254.5 203.0,254.0 202.9,253.5 202.8,253.0 202.6,252.5 202.5,252.0 202.3,251.5 202.2,251.0 202.0,250.5 201.9,250.0 201.7,249.5 201.5,249.0 201.3,248.5 201.1,248.0 200.9,247.5 200.7,247.0 200.5,246.5 200.2,246.0 200.0,245.5 199.8,245.0 199.5,244.5 199.3,244.0 199.0,243.5 198.7,243.0 198.4,242.5 198.2,242.0 197.9,241.5 197.6,241.0 197.3,240.5 197.0,240.0 196.6,239.5 196.3,239.0 196.0,238.5 195.7,238.0 195.4,237.5 195.1,237.0 194.8,236.5 194.5,236.0 194.2,235.5 193.9,235.0 193.6,234.5 193.2,234.0 192.9,233.5 192.6,233.0 192.3,232.5 192.0,232.0 191.7,231.5 191.4,231.0 191.1,230.5 190.8,230.0 190.5,229.5 190.2,229.0 189.9,228.5 189.6,228.0 189.3,227.5 189.0,227.0 188.7,226.5 188.4,226.0 188.1,225.5 187.8,225.0 187.5,224.5 187.2,224.0 186.9,223.5 186.6,223.0 186.3,222.5 186.0,222.0 185.6,221.5 185.3,221.0 184.9,220.5 184.6,220.0 184.2,219.5 183.8,219.0 183.5,218.5 183.1,218.0 182.7,217.5 182.3,217.0 181.9,216.5 181.5,216.0 181.0,215.5 180.6,215.0 180.1,214.5 179.7,214.0 179.2,213.5 178.7,213.0 178.2,212.5 177.7,212.0 177.3,211.5 176.9,211.0 176.5,210.5 176.1,210.0 175.7,209.5 175.4,209.0 175.1,208.5 174.8,208.0 174.5,207.5 174.2,207.0 174.0,206.5 173.7,206.0 173.5,205.5 173.3,205.0 173.1,204.5 172.9,204.0 172.8,203.5 172.6,203.0 172.5,202.5 172.3,202.0 172.2,201.5 172.1,201.0 172.0,200.5 171.9,200.0 171.8,199.5 171.7,199.0 171.6,198.5 171.6,198.0 171.5,197.5 171.4,197.0 171.3,196.5 171.3,196.0 171.2,195.5 171.2,195.0 171.2,194.5 171.2,194.0 171.2,193.5 171.2,193.0 171.2,192.5 171.2,192.0 171.2,191.5 171.2,191.0 171.2,190.5 171.3,190.0 171.4,189.5 171.4,189.0 171.5,188.5 171.6,188.0 171.8,187.5 171.9,187.0 172.0,186.5 172.2,186.0 172.3,185.5 172.5,185.0 172.7,184.5 172.9,184.0 173.1,183.5 173.4,183.0 173.7,182.5 173.9,182.0 174.2,181.5 174.5,181.0 174.8,180.5 175.1,180.0 175.4,179.5 175.8,179.0 176.1,178.5 176.4,178.0 176.8,177.5 177.1,177.0 177.5,176.5 177.8,176.0 178.2,175.5 178.6,175.0 178.9,174.5 179.3,174.0 179.6,173.5 180.0,173.0 180.4,172.5 180.7,172.0 181.1,171.5 181.5,171.0 181.8,170.5 182.2,170.0 182.6,169.5 183.0,169.0 183.3,168.5 183.7,168.0 184.1,167.5 184.5,167.0 184.8,166.5 185.2,166.0 185.6,165.5 185.9,165.0 186.3,164.5 186.7,164.0 187.1,163.5 187.4,163.0 187.8,162.5 188.2,162.0 188.5,161.5 188.9,161.0 189.3,160.5 189.6,160.0 190.0,159.5 190.3,159.0 190.6,158.5 191.0,158.0 191.3,157.5 191.7,157.0 192.0,156.5 192.4,156.0 192.7,155.5 193.1,155.0 193.5,154.5 193.9,154.0 194.2,153.5 194.6,153.0 195.0,152.5 195.4,152.0 195.7,151.5 196.1,151.0 196.4,150.5 196.7,150.0 197.0,149.5 197.3,149.0 197.6,148.5 197.8,148.0 198.1,147.5 198.3,147.0 198.6,146.5 198.8,146.0 199.0,145.5 199.2,145.0 199.4,144.5 199.6,144.0 199.8,143.5 200.0,143.0 200.1,142.5 200.3,142.0 200.4,141.5 200.6,141.0 200.7,140.5 200.9,140.0 201.0,139.5 201.1,139.0 201.3,138.5 201.4,138.0 201.6,137.5 201.7,137.0 201.9,136.5 202.0,136.0 202.2,135.5 202.3,135.0 202.5,134.5 202.6,134.0 202.7,133.5 202.9,133.0 203.0,132.5 203.2,132.0 203.3,131.5 203.4,131.0 203.6,130.5 203.7,130.0 203.8,129.5 204.0,129.0 204.1,128.5 204.2,128.0 204.3,127.5 204.4,127.0 204.5,126.5 204.6,126.0 204.7,125.5 204.8,125.0 204.9,124.5 205.0,124.0 205.0,123.5 205.1,123.0 205.2,122.5 205.2,122.0 205.3,121.5 205.4,121.0 205.4,120.5 205.5,120.0 205.6,119.5 205.6,119.0 205.7,118.5 205.7,118.0 205.8,117.5 205.8,117.0 205.9,116.5 205.9,116.0 206.0,115.5 206.0,115.0 206.0,114.5 206.0,114.0 206.0,113.5 206.0,113.0 206.0,112.5 206.0,112.0 206.0,111.5 206.0,111.0 206.0,110.5 206.0,110.0 206.0,109.5 206.0,109.0 206.0,108.5 206.0,108.0 206.0,107.5 206.0,107.0 206.0,106.5 206.0,106.0 206.0,105.5 206.1,105.0 206.1,104.5 206.1,104.0 206.1,103.5 206.1,103.0 206.1,102.5 206.1,102.0 206.1,101.5 206.1,101.0 206.1,100.5 206.1,100.0 206.1,99.5 206.1,99.0 206.1,98.5 206.1,98.0 206.1,97.5 206.1,97.0 206.1,96.5 206.1,96.0 206.1,95.5 206.1,95.0 206.1,94.5 206.1,94.0 206.1,93.5 206.1,93.0 206.1,92.5 206.1,92.0 206.1,91.5 206.1,91.0 206.1,90.5 206.1,90.0 206.1,89.5 206.1,89.0 206.1,88.5 206.1,88.0 206.1,87.5 206.1,87.0 206.1,86.5 206.1,86.0 206.1,85.5 206.1,85.0 206.1,84.5 206.1,84.0 206.1,83.5 206.1,83.0 206.1,82.5 206.1,82.0 206.1,81.5 206.1,81.0 206.1,80.5 206.1,80.0 206.1,79.5 206.1,79.0 206.1,78.5 206.1,78.0 206.1,77.5 206.1,77.0 206.1,76.5 206.1,76.0Z" fill="none" stroke="#FF0000" stroke-width="1.6" stroke-linejoin="round"/><path d="M453.4,172.5 453.5,173.0 453.9,173.5 454.5,174.0 455.1,174.5 455.7,175.0 456.4,175.5 457.1,176.0 457.8,176.5 458.6,177.0 459.4,177.5 460.2,178.0 461.2,178.5 462.3,179.0 463.5,179.5 464.8,180.0 466.2,180.5 467.7,181.0 469.4,181.5 471.2,182.0 473.0,182.5 475.0,183.0 477.2,183.5 479.5,184.0 482.1,184.5 484.8,185.0 487.7,185.5 490.7,186.0 493.7,186.5 496.9,187.0 500.1,187.5 503.3,188.0 506.6,188.5 509.9,189.0 513.4,189.5 516.9,190.0 520.6,190.5 524.3,191.0 528.1,191.5 531.9,192.0 535.6,192.5 539.1,193.0 542.6,193.5 545.9,194.0 549.1,194.5 552.2,195.0 554.9,195.5 557.4,196.0 559.4,196.5 561.0,197.0 562.2,197.5 563.0,198.0 563.4,198.5 563.6,199.0 563.5,199.5 563.2,200.0 562.6,200.5 561.8,201.0 560.6,201.5 558.9,202.0 556.9,202.5 554.4,203.0 551.5,203.5 548.4,204.0 545.1,204.5 541.6,205.0 538.0,205.5 534.3,206.0 530.5,206.5 526.6,207.0 522.8,207.5 518.9,208.0 515.1,208.5 511.3,209.0 507.7,209.5 504.1,210.0 500.6,210.5 497.2,211.0 494.0,211.5 490.8,212.0 487.6,212.5 484.6,213.0 481.6,213.5 478.7,214.0 475.9,214.5 473.3,215.0 470.9,215.5 468.7,216.0 466.8,216.5 465.2,217.0 463.8,217.5 462.7,218.0 461.7,218.5 460.8,219.0 460.0,219.5 459.4,220.0 458.8,220.5 458.2,221.0 457.8,221.5 457.3,222.0 456.9,222.5 456.5,223.0 456.2,223.5 455.8,224.0 455.4,224.5 454.9,225.0 454.5,225.5 454.1,226.0 453.7,226.5 453.5,227.0 453.5,227.5 453.5,228.0 453.4,228.5 453.4,229.0 453.4,229.5 453.4,230.0 453.4,230.5 453.4,231.0 453.4,231.5 453.4,232.0 453.4,232.5 453.4,233.0 453.4,233.5 453.3,233.5 453.3,233.0 453.3,232.5 453.3,232.0 453.3,231.5 453.3,231.0 453.3,230.5 453.3,230.0 453.3,229.5 453.3,229.0 453.3,228.5 453.2,228.0 453.2,227.5 453.2,227.0 453.0,226.5 452.6,226.0 452.2,225.5 451.8,225.0 451.3,224.5 450.9,224.0 450.5,223.5 450.2,223.0 449.8,222.5 449.4,222.0 448.9,221.5 448.5,221.0 447.9,220.5 447.3,220.0 446.7,219.5 445.9,219.0 445.0,218.5 444.0,218.0 442.9,217.5 441.5,217.0 439.9,216.5 438.0,216.0 435.8,215.5 433.4,215.0 430.8,214.5 428.0,214.0 425.1,213.5 422.1,213.0 419.1,212.5 415.9,212.0 412.7,211.5 409.5,211.0 406.1,210.5 402.6,210.0 399.0,209.5 395.4,209.0 391.6,208.5 387.8,208.0 383.9,207.5 380.1,207.0 376.2,206.5 372.4,206.0 368.7,205.5 365.1,205.0 361.6,204.5 358.3,204.0 355.2,203.5 352.3,203.0 349.8,202.5 347.8,202.0 346.1,201.5 344.9,201.0 344.1,200.5 343.5,200.0 343.2,199.5 343.1,199.0 343.3,198.5 343.7,198.0 344.5,197.5 345.7,197.0 347.3,196.5 349.3,196.0 351.8,195.5 354.5,195.0 357.6,194.5 360.8,194.0 364.1,193.5 367.6,193.0 371.1,192.5 374.8,192.0 378.6,191.5 382.4,191.0 386.1,190.5 389.8,190.0 393.3,189.5 396.8,189.0 400.1,188.5 403.4,188.0 406.6,187.5 409.8,187.0 413.0,186.5 416.0,186.0 419.0,185.5 421.9,185.0 424.6,184.5 427.2,184.0 429.5,183.5 431.7,183.0 433.7,182.5 435.5,182.0 437.3,181.5 439.0,181.0 440.5,180.5 441.9,180.0 443.2,179.5 444.4,179.0 445.5,178.5 446.5,178.0 447.3,177.5 448.1,177.0 448.9,176.5 449.6,176.0 450.3,175.5 451.0,175.0 451.6,174.5 452.2,174.0 452.8,173.5 453.2,173.0 453.3,172.5Z" fill="none" stroke="#FF0000" stroke-width="1.6" stroke-linejoin="round"/><path d="M700.8,187.4 700.8,187.9 700.8,188.4 700.8,188.9 700.9,189.4 700.9,189.9 700.9,190.4 701.0,190.9 701.0,191.4 701.2,191.9 701.5,192.4 701.9,192.9 702.2,193.4 702.6,193.9 702.9,194.4 703.3,194.9 703.7,195.4 704.0,195.9 704.4,196.4 704.8,196.9 705.2,197.4 705.6,197.9 706.0,198.4 706.5,198.9 707.0,199.4 707.5,199.9 708.1,200.4 708.8,200.9 709.5,201.4 710.3,201.9 711.1,202.4 711.9,202.9 712.7,203.4 713.6,203.9 714.5,204.4 715.6,204.9 716.7,205.4 718.0,205.9 719.4,206.4 720.9,206.9 722.4,207.4 724.0,207.9 725.6,208.4 727.3,208.9 729.0,209.4 730.8,209.9 732.6,210.4 734.4,210.9 736.3,211.4 738.3,211.9 740.3,212.4 742.4,212.9 744.5,213.4 746.8,213.9 749.2,214.4 751.8,214.9 754.4,215.4 757.2,215.9 759.9,216.4 762.6,216.9 765.2,217.4 767.7,217.9 770.0,218.4 772.2,218.9 774.2,219.4 776.1,219.9 777.8,220.4 779.3,220.9 780.7,221.4 781.9,221.9 783.0,222.4 784.0,222.9 784.8,223.4 785.5,223.9 786.1,224.4 786.6,224.9 786.8,225.4 786.8,225.9 786.6,226.4 786.2,226.9 785.6,227.4 784.9,227.9 784.0,228.4 782.9,228.9 781.7,229.4 780.4,229.9 778.9,230.4 777.4,230.9 775.7,231.4 774.0,231.9 772.2,232.4 770.3,232.9 768.4,233.4 766.4,233.9 764.4,234.4 762.4,234.9 760.3,235.4 758.2,235.9 756.2,236.4 754.0,236.9 751.9,237.4 749.9,237.9 747.8,238.4 745.8,238.9 743.9,239.4 742.0,239.9 740.1,240.4 738.3,240.9 736.4,241.4 734.5,241.9 732.6,242.4 730.7,242.9 728.9,243.4 727.0,243.9 725.2,244.4 723.4,244.9 721.7,245.4 720.1,245.9 718.5,246.4 717.0,246.9 715.6,247.4 714.3,247.9 713.1,248.4 712.0,248.9 711.0,249.4 710.1,249.9 709.3,250.4 708.5,250.9 707.8,251.4 707.2,251.9 706.6,252.4 706.0,252.9 705.5,253.4 705.1,253.9 704.6,254.4 704.2,254.9 703.9,255.4 703.5,255.9 703.2,256.4 702.9,256.9 702.7,257.4 702.4,257.9 702.2,258.4 701.9,258.9 701.7,259.4 701.5,259.9 701.4,260.4 701.2,260.9 701.1,261.4 701.0,261.9 701.0,262.4 701.0,262.9 700.9,263.4 700.9,263.9 700.9,264.4 700.9,264.9 700.9,265.4 700.9,265.9 700.9,266.4 700.8,266.9 700.8,267.4 700.8,267.9 700.8,268.4 700.8,268.9 700.8,269.4 700.8,269.9 700.8,270.4 700.8,270.6 700.8,270.6 700.8,270.4 700.8,269.9 700.8,269.4 700.8,268.9 700.8,268.4 700.8,267.9 700.8,267.4 700.8,266.9 700.7,266.4 700.7,265.9 700.7,265.4 700.7,264.9 700.7,264.4 700.7,263.9 700.7,263.4 700.6,262.9 700.6,262.4 700.6,261.9 700.5,261.4 700.4,260.9 700.2,260.4 700.1,259.9 699.9,259.4 699.7,258.9 699.4,258.4 699.2,257.9 698.9,257.4 698.7,256.9 698.4,256.4 698.1,255.9 697.7,255.4 697.4,254.9 697.0,254.4 696.5,253.9 696.1,253.4 695.6,252.9 695.0,252.4 694.4,251.9 693.8,251.4 693.1,250.9 692.3,250.4 691.5,249.9 690.6,249.4 689.6,248.9 688.5,248.4 687.3,247.9 686.0,247.4 684.6,246.9 683.1,246.4 681.5,245.9 679.9,245.4 678.2,244.9 676.4,244.4 674.6,243.9 672.7,243.4 670.9,242.9 669.0,242.4 667.1,241.9 665.2,241.4 663.3,240.9 661.5,240.4 659.6,239.9 657.7,239.4 655.8,238.9 653.8,238.4 651.7,237.9 649.7,237.4 647.6,236.9 645.4,236.4 643.4,235.9 641.3,235.4 639.2,234.9 637.2,234.4 635.2,233.9 633.2,233.4 631.3,232.9 629.4,232.4 627.6,231.9 625.9,231.4 624.2,230.9 622.7,230.4 621.2,229.9 619.9,229.4 618.7,228.9 617.6,228.4 616.7,227.9 616.0,227.4 615.4,226.9 615.0,226.4 614.8,225.9 614.8,225.4 615.0,224.9 615.5,224.4 616.1,223.9 616.8,223.4 617.6,222.9 618.6,222.4 619.7,221.9 620.9,221.4 622.3,220.9 623.8,220.4 625.5,219.9 627.4,219.4 629.4,218.9 631.6,218.4 633.9,217.9 636.4,217.4 639.0,216.9 641.7,216.4 644.4,215.9 647.2,215.4 649.8,214.9 652.4,214.4 654.8,213.9 657.1,213.4 659.2,212.9 661.3,212.4 663.3,211.9 665.3,211.4 667.2,210.9 669.0,210.4 670.8,209.9 672.6,209.4 674.3,208.9 676.0,208.4 677.6,207.9 679.2,207.4 680.7,206.9 682.2,206.4 683.6,205.9 684.9,205.4 686.0,204.9 687.1,204.4 688.0,203.9 688.9,203.4 689.7,202.9 690.5,202.4 691.3,201.9 692.1,201.4 692.8,200.9 693.5,200.4 694.1,199.9 694.6,199.4 695.1,198.9 695.6,198.4 696.0,197.9 696.4,197.4 696.8,196.9 697.2,196.4 697.6,195.9 697.9,195.4 698.3,194.9 698.7,194.4 699.0,193.9 699.4,193.4 699.7,192.9 700.1,192.4 700.4,191.9 700.6,191.4 700.6,190.9 700.7,190.4 700.7,189.9 700.7,189.4 700.8,188.9 700.8,188.4 700.8,187.9 700.8,187.4Z" fill="none" stroke="#FF0000" stroke-width="1.6" stroke-linejoin="round"/><path d="M453.4,132.5 453.4,133.0 453.4,133.5 453.4,134.0 453.4,134.5 453.4,135.0 453.4,135.5 453.4,136.0 453.4,136.5 453.4,137.0 453.4,137.5 453.4,138.0 453.4,138.5 453.5,139.0 453.5,139.5 453.5,140.0 453.5,140.5 453.5,141.0 453.5,141.5 453.5,142.0 453.5,142.5 453.6,143.0 453.7,143.5 453.8,144.0 453.9,144.5 454.0,145.0 454.1,145.5 454.2,146.0 454.3,146.5 454.4,147.0 454.5,147.5 454.6,148.0 454.6,148.5 454.7,149.0 454.7,149.5 454.8,150.0 454.9,150.5 454.9,151.0 455.0,151.5 455.0,152.0 455.0,152.5 455.1,153.0 455.2,153.5 455.2,154.0 455.3,154.5 455.3,155.0 455.4,155.5 455.5,156.0 455.6,156.5 455.7,157.0 455.8,157.5 456.0,158.0 456.2,158.5 456.3,159.0 456.5,159.5 456.8,160.0 457.0,160.5 457.2,161.0 457.5,161.5 457.8,162.0 458.1,162.5 458.5,163.0 458.9,163.5 459.3,164.0 459.7,164.5 460.1,165.0 460.4,165.5 460.8,166.0 461.2,166.5 461.6,167.0 462.0,167.5 462.5,168.0 462.9,168.5 463.4,169.0 463.9,169.5 464.4,170.0 465.0,170.5 465.6,171.0 466.2,171.5 466.8,172.0 467.4,172.5 468.0,173.0 468.7,173.5 469.3,174.0 470.0,174.5 470.7,175.0 471.3,175.5 472.0,176.0 472.7,176.5 473.3,177.0 473.9,177.5 474.5,178.0 475.1,178.5 475.7,179.0 476.3,179.5 477.0,180.0 477.8,180.5 478.6,181.0 479.5,181.5 480.4,182.0 481.4,182.5 482.3,183.0 483.3,183.5 484.2,184.0 485.1,184.5 486.1,185.0 487.1,185.5 488.1,186.0 489.1,186.5 490.3,187.0 491.4,187.5 492.6,188.0 493.9,188.5 495.2,189.0 496.5,189.5 497.9,190.0 499.3,190.5 500.7,191.0 502.2,191.5 503.7,192.0 505.3,192.5 506.8,193.0 508.3,193.5 509.7,194.0 511.0,194.5 512.3,195.0 513.7,195.5 515.0,196.0 516.3,196.5 517.7,197.0 519.1,197.5 520.4,198.0 521.6,198.5 522.8,199.0 524.0,199.5 525.3,200.0 526.7,200.5 528.3,201.0 530.1,201.5 532.0,202.0 534.0,202.5 536.0,203.0 538.0,203.5 539.9,204.0 541.7,204.5 543.5,205.0 545.2,205.5 546.8,206.0 548.3,206.5 549.7,207.0 551.1,207.5 552.3,208.0 553.4,208.5 554.4,209.0 555.4,209.5 556.2,210.0 557.0,210.5 557.8,211.0 558.5,211.5 559.1,212.0 559.8,212.5 560.4,213.0 561.0,213.5 561.6,214.0 562.1,214.5 562.7,215.0 563.1,215.5 563.6,216.0 564.0,216.5 564.3,217.0 564.5,217.5 564.7,218.0 564.9,218.5 565.0,219.0 565.0,219.5 564.9,220.0 564.8,220.5 564.6,221.0 564.3,221.5 563.8,222.0 563.3,222.5 562.7,223.0 561.8,223.5 560.8,224.0 559.6,224.5 558.4,225.0 557.1,225.5 555.8,226.0 554.5,226.5 553.3,227.0 552.2,227.5 551.0,228.0 549.9,228.5 548.7,229.0 547.6,229.5 546.5,230.0 545.4,230.5 544.3,231.0 543.2,231.5 542.1,232.0 541.0,232.5 539.9,233.0 538.7,233.5 537.6,234.0 536.4,234.5 535.1,235.0 533.9,235.5 532.6,236.0 531.2,236.5 529.7,237.0 528.2,237.5 526.6,238.0 525.0,238.5 523.4,239.0 521.8,239.5 520.3,240.0 518.8,240.5 517.3,241.0 515.9,241.5 514.4,242.0 513.0,242.5 511.4,243.0 509.9,243.5 508.3,244.0 506.8,244.5 505.2,245.0 503.6,245.5 502.0,246.0 500.5,246.5 499.1,247.0 497.7,247.5 496.3,248.0 494.9,248.5 493.6,249.0 492.3,249.5 491.1,250.0 489.8,250.5 488.6,251.0 487.5,251.5 486.4,252.0 485.3,252.5 484.3,253.0 483.3,253.5 482.3,254.0 481.3,254.5 480.3,255.0 479.3,255.5 478.4,256.0 477.4,256.5 476.4,257.0 475.4,257.5 474.4,258.0 473.4,258.5 472.4,259.0 471.4,259.5 470.6,260.0 469.8,260.5 469.1,261.0 468.4,261.5 467.8,262.0 467.1,262.5 466.5,263.0 465.9,263.5 465.2,264.0 464.5,264.5 463.9,265.0 463.2,265.5 462.6,266.0 462.0,266.5 461.4,267.0 460.9,267.5 460.4,268.0 459.9,268.5 459.4,269.0 459.0,269.5 458.6,270.0 458.3,270.5 457.9,271.0 457.6,271.5 457.3,272.0 457.1,272.5 456.8,273.0 456.6,273.5 456.4,274.0 456.2,274.5 456.0,275.0 455.8,275.5 455.6,276.0 455.4,276.5 455.3,277.0 455.1,277.5 455.0,278.0 454.8,278.5 454.7,279.0 454.5,279.5 454.4,280.0 454.3,280.5 454.2,281.0 454.0,281.5 453.9,282.0 453.9,282.5 453.8,283.0 453.7,283.5 453.7,284.0 453.6,284.5 453.6,285.0 453.6,285.5 453.5,286.0 453.5,286.5 453.5,287.0 453.5,287.5 453.5,288.0 453.5,288.5 453.5,289.0 453.5,289.5 453.5,290.0 453.5,290.5 453.5,291.0 453.5,291.5 453.5,292.0 453.5,292.5 453.5,293.0 453.5,293.5 453.5,294.0 453.4,294.5 453.4,295.0 453.4,295.5 453.4,296.0 453.4,296.5 453.4,297.0 453.4,297.5 453.4,298.0 453.4,298.5 453.4,299.0 453.4,299.5 453.4,300.0 453.4,300.5 453.4,301.0 453.4,301.5 453.4,302.0 453.4,302.5 453.4,303.0 453.4,303.5 453.4,304.0 453.3,304.0 453.3,303.5 453.3,303.0 453.3,302.5 453.3,302.0 453.3,301.5 453.3,301.0 453.3,300.5 453.3,300.0 453.3,299.5 453.3,299.0 453.3,298.5 453.3,298.0 453.3,297.5 453.3,297.0 453.3,296.5 453.3,296.0 453.3,295.5 453.3,295.0 453.3,294.5 453.2,294.0 453.2,293.5 453.2,293.0 453.2,292.5 453.2,292.0 453.2,291.5 453.2,291.0 453.2,290.5 453.2,290.0 453.2,289.5 453.2,289.0 453.2,288.5 453.2,288.0 453.2,287.5 453.2,287.0 453.2,286.5 453.2,286.0 453.1,285.5 453.1,285.0 453.1,284.5 453.0,284.0 453.0,283.5 452.9,283.0 452.8,282.5 452.8,282.0 452.7,281.5 452.5,281.0 452.4,280.5 452.3,280.0 452.2,279.5 452.0,279.0 451.9,278.5 451.7,278.0 451.6,277.5 451.4,277.0 451.3,276.5 451.1,276.0 450.9,275.5 450.7,275.0 450.5,274.5 450.3,274.0 450.1,273.5 449.9,273.0 449.6,272.5 449.4,272.0 449.1,271.5 448.8,271.0 448.4,270.5 448.1,270.0 447.7,269.5 447.3,269.0 446.8,268.5 446.3,268.0 445.8,267.5 445.3,267.0 444.7,266.5 444.1,266.0 443.5,265.5 442.8,265.0 442.2,264.5 441.5,264.0 440.8,263.5 440.2,263.0 439.6,262.5 438.9,262.0 438.3,261.5 437.6,261.0 436.9,260.5 436.1,260.0 435.3,259.5 434.3,259.0 433.3,258.5 432.3,258.0 431.3,257.5 430.3,257.0 429.3,256.5 428.3,256.0 427.4,255.5 426.4,255.0 425.4,254.5 424.4,254.0 423.4,253.5 422.4,253.0 421.4,252.5 420.3,252.0 419.2,251.5 418.1,251.0 416.9,250.5 415.6,250.0 414.4,249.5 413.1,249.0 411.8,248.5 410.4,248.0 409.0,247.5 407.6,247.0 406.2,246.5 404.7,246.0 403.1,245.5 401.5,245.0 399.9,244.5 398.4,244.0 396.8,243.5 395.3,243.0 393.7,242.5 392.3,242.0 390.8,241.5 389.4,241.0 387.9,240.5 386.4,240.0 384.9,239.5 383.3,239.0 381.7,238.5 380.1,238.0 378.5,237.5 377.0,237.0 375.5,236.5 374.1,236.0 372.8,235.5 371.6,235.0 370.3,234.5 369.1,234.0 368.0,233.5 366.8,233.0 365.7,232.5 364.6,232.0 363.5,231.5 362.4,231.0 361.3,230.5 360.2,230.0 359.1,229.5 358.0,229.0 356.8,228.5 355.7,228.0 354.5,227.5 353.4,227.0 352.2,226.5 350.9,226.0 349.6,225.5 348.3,225.0 347.1,224.5 345.9,224.0 344.9,223.5 344.0,223.0 343.4,222.5 342.9,222.0 342.4,221.5 342.1,221.0 341.9,220.5 341.8,220.0 341.7,219.5 341.7,219.0 341.8,218.5 342.0,218.0 342.2,217.5 342.4,217.0 342.7,216.5 343.1,216.0 343.6,215.5 344.0,215.0 344.6,214.5 345.1,214.0 345.7,213.5 346.3,213.0 346.9,212.5 347.6,212.0 348.2,211.5 348.9,211.0 349.7,210.5 350.5,210.0 351.3,209.5 352.3,209.0 353.3,208.5 354.4,208.0 355.6,207.5 357.0,207.0 358.4,206.5 359.9,206.0 361.5,205.5 363.2,205.0 365.0,204.5 366.8,204.0 368.7,203.5 370.7,203.0 372.7,202.5 374.7,202.0 376.6,201.5 378.4,201.0 380.0,200.5 381.4,200.0 382.7,199.5 383.9,199.0 385.1,198.5 386.3,198.0 387.6,197.5 389.0,197.0 390.4,196.5 391.7,196.0 393.0,195.5 394.4,195.0 395.7,194.5 397.0,194.0 398.4,193.5 399.9,193.0 401.4,192.5 403.0,192.0 404.5,191.5 406.0,191.0 407.4,190.5 408.8,190.0 410.2,189.5 411.5,189.0 412.8,188.5 414.1,188.0 415.3,187.5 416.4,187.0 417.6,186.5 418.6,186.0 419.6,185.5 420.6,185.0 421.6,184.5 422.5,184.0 423.4,183.5 424.4,183.0 425.3,182.5 426.3,182.0 427.2,181.5 428.1,181.0 428.9,180.5 429.7,180.0 430.4,179.5 431.0,179.0 431.6,178.5 432.2,178.0 432.8,177.5 433.4,177.0 434.0,176.5 434.7,176.0 435.4,175.5 436.0,175.0 436.7,174.5 437.4,174.0 438.0,173.5 438.7,173.0 439.3,172.5 439.9,172.0 440.5,171.5 441.1,171.0 441.7,170.5 442.3,170.0 442.8,169.5 443.3,169.0 443.8,168.5 444.2,168.0 444.7,167.5 445.1,167.0 445.5,166.5 445.9,166.0 446.3,165.5 446.6,165.0 447.0,164.5 447.4,164.0 447.8,163.5 448.2,163.0 448.6,162.5 448.9,162.0 449.2,161.5 449.5,161.0 449.7,160.5 449.9,160.0 450.2,159.5 450.4,159.0 450.5,158.5 450.7,158.0 450.9,157.5 451.0,157.0 451.1,156.5 451.2,156.0 451.3,155.5 451.4,155.0 451.4,154.5 451.5,154.0 451.5,153.5 451.6,153.0 451.7,152.5 451.7,152.0 451.7,151.5 451.8,151.0 451.8,150.5 451.9,150.0 452.0,149.5 452.0,149.0 452.1,148.5 452.1,148.0 452.2,147.5 452.3,147.0 452.4,146.5 452.5,146.0 452.6,145.5 452.7,145.0 452.8,144.5 452.9,144.0 453.0,143.5 453.1,143.0 453.2,142.5 453.2,142.0 453.2,141.5 453.2,141.0 453.2,140.5 453.2,140.0 453.2,139.5 453.2,139.0 453.3,138.5 453.3,138.0 453.3,137.5 453.3,137.0 453.3,136.5 453.3,136.0 453.3,135.5 453.3,135.0 453.3,134.5 453.3,134.0 453.3,133.5 453.3,133.0 453.3,132.5Z" fill="none" stroke="#00FFFF" stroke-width="1.6" stroke-linejoin="round"/><path d="M700.8,24.0 700.8,24.5 700.8,25.0 700.8,25.5 700.8,26.0 700.9,26.5 700.9,27.0 700.9,27.5 700.9,28.0 700.9,28.5 700.9,29.0 700.9,29.5 700.9,30.0 700.9,30.5 700.9,31.0 700.9,31.5 700.9,32.0 700.9,32.5 700.9,33.0 700.9,33.5 700.9,34.0 700.9,34.5 700.9,35.0 700.9,35.5 700.9,36.0 700.9,36.5 700.9,37.0 700.9,37.5 700.9,38.0 700.9,38.5 700.9,39.0 700.9,39.5 700.9,40.0 700.9,40.5 700.9,41.0 700.9,41.5 700.9,42.0 700.9,42.5 700.9,43.0 700.9,43.5 700.9,44.0 700.9,44.5 700.9,45.0 700.9,45.5 700.9,46.0 700.9,46.5 700.9,47.0 700.9,47.5 700.9,48.0 700.9,48.5 700.9,49.0 700.9,49.5 700.9,50.0 700.9,50.5 700.9,51.0 700.9,51.5 700.9,52.0 700.9,52.5 700.9,53.0 700.9,53.5 700.9,54.0 700.9,54.5 700.9,55.0 700.9,55.5 700.9,56.0 700.9,56.5 700.9,57.0 700.9,57.5 700.9,58.0 700.9,58.5 700.9,59.0 700.9,59.5 700.9,60.0 700.9,60.5 700.9,61.0 700.9,61.5 700.9,62.0 700.9,62.5 700.9,63.0 700.9,63.5 700.9,64.0 700.9,64.5 700.9,65.0 700.9,65.5 700.9,66.0 700.9,66.5 700.9,67.0 700.9,67.5 700.9,68.0 700.9,68.5 700.9,69.0 700.9,69.5 700.9,70.0 700.9,70.5 700.9,71.0 700.9,71.5 700.9,72.0 700.9,72.5 700.9,73.0 700.9,73.5 700.9,74.0 700.9,74.5 700.9,75.0 700.9,75.5 700.9,76.0 700.9,76.5 700.9,77.0 700.9,77.5 700.9,78.0 700.9,78.5 700.9,79.0 700.9,79.5 700.9,80.0 700.9,80.5 700.9,81.0 700.9,81.5 700.9,82.0 700.9,82.5 700.9,83.0 700.9,83.5 700.9,84.0 700.9,84.5 700.9,85.0 700.9,85.5 700.9,86.0 700.9,86.5 700.9,87.0 701.0,87.5 701.0,88.0 701.0,88.5 701.0,89.0 701.0,89.5 701.0,90.0 701.0,90.5 701.0,91.0 701.0,91.5 701.0,92.0 701.0,92.5 701.0,93.0 701.0,93.5 701.0,94.0 701.0,94.5 701.0,95.0 701.0,95.5 701.0,96.0 701.0,96.5 701.0,97.0 701.0,97.5 701.0,98.0 701.0,98.5 701.0,99.0 701.0,99.5 701.0,100.0 701.0,100.5 701.0,101.0 701.0,101.5 701.0,102.0 701.1,102.5 701.1,103.0 701.2,103.5 701.3,104.0 701.3,104.5 701.4,105.0 701.5,105.5 701.5,106.0 701.6,106.5 701.7,107.0 701.7,107.5 701.8,108.0 701.8,108.5 701.9,109.0 702.0,109.5 702.1,110.0 702.1,110.5 702.2,111.0 702.3,111.5 702.4,112.0 702.5,112.5 702.5,113.0 702.6,113.5 702.7,114.0 702.8,114.5 702.9,115.0 703.0,115.5 703.1,116.0 703.2,116.5 703.2,117.0 703.3,117.5 703.4,118.0 703.5,118.5 703.6,119.0 703.6,119.5 703.7,120.0 703.8,120.5 703.9,121.0 704.0,121.5 704.0,122.0 704.1,122.5 704.2,123.0 704.3,123.5 704.3,124.0 704.4,124.5 704.5,125.0 704.6,125.5 704.7,126.0 704.7,126.5 704.8,127.0 704.9,127.5 705.0,128.0 705.1,128.5 705.2,129.0 705.3,129.5 705.3,130.0 705.4,130.5 705.5,131.0 705.6,131.5 705.7,132.0 705.8,132.5 705.9,133.0 706.0,133.5 706.1,134.0 706.2,134.5 706.3,135.0 706.4,135.5 706.5,136.0 706.5,136.5 706.6,137.0 706.7,137.5 706.8,138.0 706.9,138.5 707.0,139.0 707.1,139.5 707.2,140.0 707.3,140.5 707.4,141.0 707.5,141.5 707.6,142.0 707.7,142.5 707.8,143.0 707.9,143.5 708.0,144.0 708.0,144.5 708.1,145.0 708.2,145.5 708.3,146.0 708.4,146.5 708.4,147.0 708.5,147.5 708.6,148.0 708.6,148.5 708.7,149.0 708.7,149.5 708.8,150.0 708.8,150.5 708.9,151.0 709.0,151.5 709.0,152.0 709.1,152.5 709.2,153.0 709.3,153.5 709.3,154.0 709.5,154.5 709.6,155.0 709.7,155.5 709.9,156.0 710.1,156.5 710.2,157.0 710.4,157.5 710.6,158.0 710.8,158.5 711.0,159.0 711.1,159.5 711.3,160.0 711.5,160.5 711.7,161.0 711.9,161.5 712.1,162.0 712.3,162.5 712.4,163.0 712.6,163.5 712.8,164.0 713.0,164.5 713.2,165.0 713.4,165.5 713.6,166.0 713.8,166.5 714.0,167.0 714.2,167.5 714.4,168.0 714.6,168.5 714.9,169.0 715.1,169.5 715.3,170.0 715.5,170.5 715.7,171.0 715.9,171.5 716.1,172.0 716.2,172.5 716.4,173.0 716.6,173.5 716.8,174.0 717.0,174.5 717.1,175.0 717.3,175.5 717.5,176.0 717.6,176.5 717.8,177.0 717.9,177.5 718.1,178.0 718.3,178.5 718.4,179.0 718.6,179.5 718.7,180.0 718.9,180.5 719.1,181.0 719.2,181.5 719.4,182.0 719.5,182.5 719.7,183.0 719.9,183.5 720.0,184.0 720.2,184.5 720.3,185.0 720.5,185.5 720.7,186.0 720.8,186.5 721.0,187.0 721.2,187.5 721.3,188.0 721.5,188.5 721.7,189.0 721.9,189.5 722.1,190.0 722.2,190.5 722.4,191.0 722.6,191.5 722.8,192.0 723.0,192.5 723.2,193.0 723.4,193.5 723.6,194.0 723.8,194.5 724.0,195.0 724.2,195.5 724.4,196.0 724.7,196.5 724.9,197.0 725.1,197.5 725.4,198.0 725.6,198.5 725.8,199.0 726.1,199.5 726.4,200.0 726.6,200.5 726.9,201.0 727.1,201.5 727.4,202.0 727.7,202.5 727.9,203.0 728.2,203.5 728.4,204.0 728.7,204.5 729.0,205.0 729.2,205.5 729.5,206.0 729.7,206.5 730.0,207.0 730.2,207.5 730.5,208.0 730.7,208.5 731.0,209.0 731.2,209.5 731.5,210.0 731.7,210.5 732.0,211.0 732.2,211.5 732.5,212.0 732.7,212.5 732.9,213.0 733.2,213.5 733.4,214.0 733.6,214.5 733.9,215.0 734.1,215.5 734.3,216.0 734.5,216.5 734.7,217.0 735.0,217.5 735.2,218.0 735.4,218.5 735.6,219.0 735.8,219.5 736.0,220.0 736.2,220.5 736.4,221.0 736.6,221.5 736.7,222.0 736.9,222.5 737.1,223.0 737.3,223.5 737.5,224.0 737.6,224.5 737.8,225.0 738.0,225.5 738.2,226.0 738.3,226.5 738.5,227.0 738.6,227.5 738.8,228.0 738.9,228.5 739.1,229.0 739.2,229.5 739.3,230.0 739.5,230.5 739.6,231.0 739.7,231.5 739.8,232.0 739.9,232.5 740.1,233.0 740.2,233.5 740.3,234.0 740.4,234.5 740.5,235.0 740.6,235.5 740.7,236.0 740.8,236.5 740.9,237.0 740.9,237.5 741.0,238.0 741.1,238.5 741.2,239.0 741.3,239.5 741.4,240.0 741.4,240.5 741.5,241.0 741.6,241.5 741.7,242.0 741.8,242.5 741.8,243.0 741.9,243.5 742.0,244.0 742.0,244.5 742.1,245.0 742.2,245.5 742.2,246.0 742.3,246.5 742.3,247.0 742.4,247.5 742.4,248.0 742.5,248.5 742.6,249.0 742.6,249.5 742.7,250.0 742.7,250.5 742.8,251.0 742.8,251.5 742.9,252.0 742.9,252.5 742.9,253.0 743.0,253.5 743.0,254.0 743.0,254.5 743.0,255.0 743.0,255.5 743.0,256.0 743.0,256.5 742.9,257.0 742.9,257.5 742.9,258.0 742.9,258.5 742.8,259.0 742.8,259.5 742.8,260.0 742.7,260.5 742.7,261.0 742.6,261.5 742.6,262.0 742.6,262.5 742.5,263.0 742.5,263.5 742.4,264.0 742.4,264.5 742.3,265.0 742.3,265.5 742.2,266.0 742.2,266.5 742.1,267.0 742.1,267.5 742.0,268.0 741.9,268.5 741.9,269.0 741.8,269.5 741.7,270.0 741.6,270.5 741.6,271.0 741.5,271.5 741.4,272.0 741.3,272.5 741.2,273.0 741.0,273.5 740.9,274.0 740.8,274.5 740.6,275.0 740.5,275.5 740.3,276.0 740.1,276.5 740.0,277.0 739.8,277.5 739.6,278.0 739.4,278.5 739.3,279.0 739.1,279.5 738.9,280.0 738.6,280.5 738.4,281.0 738.2,281.5 737.9,282.0 737.7,282.5 737.4,283.0 737.2,283.5 736.9,284.0 736.6,284.5 736.4,285.0 736.1,285.5 735.9,286.0 735.6,286.5 735.3,287.0 735.1,287.5 734.9,288.0 734.7,288.5 734.5,289.0 734.3,289.5 734.1,290.0 733.9,290.5 733.7,291.0 733.5,291.5 733.3,292.0 733.1,292.5 732.9,293.0 732.8,293.5 732.6,294.0 732.4,294.5 732.2,295.0 732.0,295.5 731.8,296.0 731.6,296.5 731.4,297.0 731.2,297.5 731.0,298.0 730.8,298.5 730.6,299.0 730.4,299.5 730.2,300.0 729.9,300.5 729.7,301.0 729.5,301.5 729.3,302.0 729.1,302.5 728.9,303.0 728.6,303.5 728.4,304.0 728.2,304.5 727.9,305.0 727.7,305.5 727.4,306.0 727.2,306.5 726.9,307.0 726.6,307.5 726.4,308.0 726.1,308.5 725.8,309.0 725.6,309.5 725.3,310.0 725.1,310.5 724.8,311.0 724.6,311.5 724.3,312.0 724.1,312.5 723.8,313.0 723.6,313.5 723.3,314.0 723.1,314.5 722.8,315.0 722.6,315.5 722.3,316.0 722.1,316.5 721.8,317.0 721.6,317.5 721.3,318.0 721.1,318.5 720.8,319.0 720.6,319.5 720.3,320.0 720.1,320.5 719.8,321.0 719.6,321.5 719.3,322.0 719.0,322.5 718.7,323.0 718.5,323.5 718.2,324.0 718.0,324.5 717.7,325.0 717.5,325.5 717.2,326.0 717.0,326.5 716.8,327.0 716.6,327.5 716.4,328.0 716.2,328.5 716.0,329.0 715.9,329.5 715.7,330.0 715.6,330.5 715.4,331.0 715.3,331.5 715.1,332.0 715.0,332.5 714.9,333.0 714.7,333.5 714.6,334.0 714.5,334.5 714.3,335.0 714.2,335.5 714.1,336.0 713.9,336.5 713.8,337.0 713.7,337.5 713.5,338.0 713.4,338.5 713.3,339.0 713.1,339.5 713.0,340.0 712.9,340.5 712.7,341.0 712.6,341.5 712.4,342.0 712.3,342.5 712.2,343.0 712.0,343.5 711.8,344.0 711.7,344.5 711.5,345.0 711.4,345.5 711.2,346.0 711.0,346.5 710.8,347.0 710.7,347.5 710.5,348.0 710.3,348.5 710.2,349.0 710.0,349.5 709.8,350.0 709.7,350.5 709.5,351.0 709.4,351.5 709.2,352.0 709.1,352.5 709.0,353.0 708.8,353.5 708.7,354.0 708.5,354.5 708.4,355.0 708.3,355.5 708.2,356.0 708.0,356.5 707.9,357.0 707.8,357.5 707.7,358.0 707.6,358.5 707.4,359.0 707.3,359.5 707.2,360.0 707.1,360.5 707.0,361.0 706.9,361.5 706.8,362.0 706.7,362.5 706.6,363.0 706.5,363.5 706.4,364.0 706.3,364.5 706.2,365.0 706.1,365.5 706.0,366.0 705.9,366.5 705.8,367.0 705.7,367.5 705.7,368.0 705.6,368.5 705.5,369.0 705.5,369.5 705.4,370.0 705.3,370.5 705.3,371.0 705.2,371.5 705.2,372.0 705.1,372.5 705.1,373.0 705.0,373.5 704.9,374.0 704.9,374.5 704.8,375.0 704.8,375.5 704.7,376.0 704.6,376.5 704.6,377.0 704.5,377.5 704.4,378.0 704.4,378.5 704.3,379.0 704.2,379.5 704.1,380.0 704.1,380.5 704.0,381.0 703.9,381.5 703.9,382.0 703.8,382.5 703.7,383.0 703.7,383.5 703.6,384.0 703.6,384.5 703.5,385.0 703.5,385.5 703.4,386.0 703.3,386.5 703.3,387.0 703.2,387.5 703.2,388.0 703.1,388.5 703.1,389.0 703.0,389.5 703.0,390.0 702.9,390.5 702.9,391.0 702.8,391.5 702.8,392.0 702.7,392.5 702.6,393.0 702.6,393.5 702.5,394.0 702.5,394.5 702.4,395.0 702.3,395.5 702.3,396.0 702.2,396.5 702.2,397.0 702.1,397.5 702.0,398.0 702.0,398.5 701.9,399.0 701.9,399.5 701.8,400.0 701.8,400.5 701.7,401.0 701.6,401.5 701.6,402.0 701.5,402.5 701.4,403.0 701.4,403.5 701.3,404.0 701.3,404.5 701.2,405.0 701.2,405.5 701.1,406.0 701.1,406.5 701.1,407.0 701.0,407.5 701.0,408.0 701.0,408.5 701.0,409.0 701.0,409.5 701.0,410.0 701.0,410.5 701.0,411.0 701.0,411.5 701.0,412.0 701.0,412.5 701.0,413.0 701.0,413.5 701.0,414.0 701.0,414.5 701.0,415.0 701.0,415.5 701.0,416.0 701.0,416.5 701.0,417.0 701.0,417.5 701.0,418.0 701.0,418.5 701.0,419.0 701.0,419.5 701.0,420.0 701.0,420.5 701.0,421.0 701.0,421.5 701.0,422.0 701.0,422.5 701.0,423.0 701.0,423.5 701.0,424.0 701.0,424.5 701.0,425.0 701.0,425.5 701.0,426.0 700.9,426.5 700.9,427.0 700.9,427.5 700.9,428.0 700.9,428.5 700.9,429.0 700.9,429.5 700.9,430.0 700.9,430.5 700.9,431.0 700.9,431.5 700.9,432.0 700.9,432.5 700.9,433.0 700.9,433.5 700.9,434.0 700.9,434.5 700.9,435.0 700.9,435.5 700.9,436.0 700.9,436.5 700.9,437.0 700.9,437.5 700.9,438.0 700.9,438.5 700.9,439.0 700.9,439.5 700.9,440.0 700.9,440.5 700.9,441.0 700.9,441.5 700.9,442.0 700.9,442.5 700.9,443.0 700.9,443.5 700.9,444.0 700.9,444.5 700.9,445.0 700.9,445.5 700.9,446.0 700.9,446.5 700.9,447.0 700.9,447.5 700.9,448.0 700.9,448.5 700.9,449.0 700.9,449.5 700.9,450.0 700.9,450.5 700.9,451.0 700.9,451.5 700.9,452.0 700.9,452.5 700.9,453.0 700.9,453.5 700.9,454.0 700.9,454.5 700.9,455.0 700.9,455.5 700.9,456.0 700.9,456.5 700.9,457.0 700.9,457.5 700.9,458.0 700.9,458.5 700.9,459.0 700.9,459.5 700.9,460.0 700.9,460.5 700.9,461.0 700.9,461.5 700.9,462.0 700.9,462.5 700.9,463.0 700.9,463.5 700.9,464.0 700.9,464.5 700.9,465.0 700.8,465.5 700.8,466.0 700.8,466.5 700.8,467.0 700.8,467.5 700.8,468.0 700.8,468.5 700.8,469.0 700.8,469.5 700.8,470.0 700.8,470.5 700.8,471.0 700.8,471.5 700.8,472.0 700.8,472.5 700.8,473.0 700.8,473.5 700.8,474.0 700.8,474.5 700.8,475.0 700.8,475.5 700.8,476.0 700.8,476.5 700.8,477.0 700.8,477.5 700.8,478.0 700.8,478.5 700.8,479.0 700.8,479.5 700.8,479.9 700.8,479.9 700.8,479.5 700.8,479.0 700.8,478.5 700.8,478.0 700.8,477.5 700.8,477.0 700.8,476.5 700.8,476.0 700.8,475.5 700.8,475.0 700.8,474.5 700.8,474.0 700.8,473.5 700.8,473.0 700.8,472.5 700.8,472.0 700.8,471.5 700.8,471.0 700.8,470.5 700.8,470.0 700.8,469.5 700.8,469.0 700.8,468.5 700.8,468.0 700.8,467.5 700.8,467.0 700.8,466.5 700.8,466.0 700.8,465.5 700.7,465.0 700.7,464.5 700.7,464.0 700.7,463.5 700.7,463.0 700.7,462.5 700.7,462.0 700.7,461.5 700.7,461.0 700.7,460.5 700.7,460.0 700.7,459.5 700.7,459.0 700.7,458.5 700.7,458.0 700.7,457.5 700.7,457.0 700.7,456.5 700.7,456.0 700.7,455.5 700.7,455.0 700.7,454.5 700.7,454.0 700.7,453.5 700.7,453.0 700.7,452.5 700.7,452.0 700.7,451.5 700.7,451.0 700.7,450.5 700.7,450.0 700.7,449.5 700.7,449.0 700.7,448.5 700.7,448.0 700.7,447.5 700.7,447.0 700.7,446.5 700.7,446.0 700.7,445.5 700.7,445.0 700.7,444.5 700.7,444.0 700.7,443.5 700.7,443.0 700.7,442.5 700.7,442.0 700.7,441.5 700.7,441.0 700.7,440.5 700.7,440.0 700.7,439.5 700.7,439.0 700.7,438.5 700.7,438.0 700.7,437.5 700.7,437.0 700.7,436.5 700.7,436.0 700.7,435.5 700.7,435.0 700.7,434.5 700.7,434.0 700.7,433.5 700.7,433.0 700.7,432.5 700.7,432.0 700.7,431.5 700.7,431.0 700.7,430.5 700.7,430.0 700.7,429.5 700.7,429.0 700.7,428.5 700.7,428.0 700.7,427.5 700.7,427.0 700.7,426.5 700.6,426.0 700.6,425.5 700.6,425.0 700.6,424.5 700.6,424.0 700.6,423.5 700.6,423.0 700.6,422.5 700.6,422.0 700.6,421.5 700.6,421.0 700.6,420.5 700.6,420.0 700.6,419.5 700.6,419.0 700.6,418.5 700.6,418.0 700.6,417.5 700.6,417.0 700.6,416.5 700.6,416.0 700.6,415.5 700.6,415.0 700.6,414.5 700.6,414.0 700.6,413.5 700.6,413.0 700.6,412.5 700.6,412.0 700.6,411.5 700.6,411.0 700.6,410.5 700.6,410.0 700.6,409.5 700.6,409.0 700.6,408.5 700.6,408.0 700.6,407.5 700.5,407.0 700.5,406.5 700.5,406.0 700.4,405.5 700.4,405.0 700.3,404.5 700.3,404.0 700.2,403.5 700.2,403.0 700.1,402.5 700.0,402.0 700.0,401.5 699.9,401.0 699.8,400.5 699.8,400.0 699.7,399.5 699.7,399.0 699.6,398.5 699.6,398.0 699.5,397.5 699.4,397.0 699.4,396.5 699.3,396.0 699.3,395.5 699.2,395.0 699.1,394.5 699.1,394.0 699.0,393.5 699.0,393.0 698.9,392.5 698.8,392.0 698.8,391.5 698.7,391.0 698.7,390.5 698.6,390.0 698.6,389.5 698.5,389.0 698.5,388.5 698.4,388.0 698.4,387.5 698.3,387.0 698.3,386.5 698.2,386.0 698.1,385.5 698.1,385.0 698.0,384.5 698.0,384.0 697.9,383.5 697.9,383.0 697.8,382.5 697.7,382.0 697.7,381.5 697.6,381.0 697.5,380.5 697.5,380.0 697.4,379.5 697.3,379.0 697.2,378.5 697.2,378.0 697.1,377.5 697.0,377.0 697.0,376.5 696.9,376.0 696.8,375.5 696.8,375.0 696.7,374.5 696.7,374.0 696.6,373.5 696.5,373.0 696.5,372.5 696.4,372.0 696.4,371.5 696.3,371.0 696.3,370.5 696.2,370.0 696.1,369.5 696.1,369.0 696.0,368.5 695.9,368.0 695.9,367.5 695.8,367.0 695.7,366.5 695.6,366.0 695.5,365.5 695.4,365.0 695.3,364.5 695.2,364.0 695.1,363.5 695.0,363.0 694.9,362.5 694.8,362.0 694.7,361.5 694.6,361.0 694.5,360.5 694.4,360.0 694.3,359.5 694.2,359.0 694.0,358.5 693.9,358.0 693.8,357.5 693.7,357.0 693.6,356.5 693.4,356.0 693.3,355.5 693.2,355.0 693.1,354.5 692.9,354.0 692.8,353.5 692.6,353.0 692.5,352.5 692.4,352.0 692.2,351.5 692.1,351.0 691.9,350.5 691.8,350.0 691.6,349.5 691.4,349.0 691.3,348.5 691.1,348.0 690.9,347.5 690.8,347.0 690.6,346.5 690.4,346.0 690.2,345.5 690.1,345.0 689.9,344.5 689.8,344.0 689.6,343.5 689.4,343.0 689.3,342.5 689.2,342.0 689.0,341.5 688.9,341.0 688.7,340.5 688.6,340.0 688.5,339.5 688.3,339.0 688.2,338.5 688.1,338.0 687.9,337.5 687.8,337.0 687.7,336.5 687.5,336.0 687.4,335.5 687.3,335.0 687.1,334.5 687.0,334.0 686.9,333.5 686.7,333.0 686.6,332.5 686.5,332.0 686.3,331.5 686.2,331.0 686.0,330.5 685.9,330.0 685.7,329.5 685.6,329.0 685.4,328.5 685.2,328.0 685.0,327.5 684.8,327.0 684.6,326.5 684.4,326.0 684.1,325.5 683.9,325.0 683.6,324.5 683.4,324.0 683.1,323.5 682.9,323.0 682.6,322.5 682.3,322.0 682.0,321.5 681.8,321.0 681.5,320.5 681.3,320.0 681.0,319.5 680.8,319.0 680.5,318.5 680.3,318.0 680.0,317.5 679.8,317.0 679.5,316.5 679.3,316.0 679.0,315.5 678.8,315.0 678.5,314.5 678.3,314.0 678.0,313.5 677.8,313.0 677.5,312.5 677.3,312.0 677.0,311.5 676.8,311.0 676.5,310.5 676.3,310.0 676.0,309.5 675.8,309.0 675.5,308.5 675.2,308.0 675.0,307.5 674.7,307.0 674.4,306.5 674.2,306.0 673.9,305.5 673.7,305.0 673.4,304.5 673.2,304.0 673.0,303.5 672.7,303.0 672.5,302.5 672.3,302.0 672.1,301.5 671.9,301.0 671.7,300.5 671.4,300.0 671.2,299.5 671.0,299.0 670.8,298.5 670.6,298.0 670.4,297.5 670.2,297.0 670.0,296.5 669.8,296.0 669.6,295.5 669.4,295.0 669.2,294.5 669.0,294.0 668.8,293.5 668.7,293.0 668.5,292.5 668.3,292.0 668.1,291.5 667.9,291.0 667.7,290.5 667.5,290.0 667.3,289.5 667.1,289.0 666.9,288.5 666.7,288.0 666.5,287.5 666.3,287.0 666.0,286.5 665.7,286.0 665.5,285.5 665.2,285.0 665.0,284.5 664.7,284.0 664.4,283.5 664.2,283.0 663.9,282.5 663.7,282.0 663.4,281.5 663.2,281.0 663.0,280.5 662.7,280.0 662.5,279.5 662.3,279.0 662.2,278.5 662.0,278.0 661.8,277.5 661.6,277.0 661.5,276.5 661.3,276.0 661.1,275.5 661.0,275.0 660.8,274.5 660.7,274.0 660.6,273.5 660.4,273.0 660.3,272.5 660.2,272.0 660.1,271.5 660.0,271.0 660.0,270.5 659.9,270.0 659.8,269.5 659.7,269.0 659.7,268.5 659.6,268.0 659.5,267.5 659.5,267.0 659.4,266.5 659.4,266.0 659.3,265.5 659.3,265.0 659.2,264.5 659.2,264.0 659.1,263.5 659.1,263.0 659.0,262.5 659.0,262.0 659.0,261.5 658.9,261.0 658.9,260.5 658.8,260.0 658.8,259.5 658.8,259.0 658.7,258.5 658.7,258.0 658.7,257.5 658.7,257.0 658.6,256.5 658.6,256.0 658.6,255.5 658.6,255.0 658.6,254.5 658.6,254.0 658.6,253.5 658.7,253.0 658.7,252.5 658.7,252.0 658.8,251.5 658.8,251.0 658.9,250.5 658.9,250.0 659.0,249.5 659.0,249.0 659.1,248.5 659.2,248.0 659.2,247.5 659.3,247.0 659.3,246.5 659.4,246.0 659.4,245.5 659.5,245.0 659.6,244.5 659.6,244.0 659.7,243.5 659.8,243.0 659.8,242.5 659.9,242.0 660.0,241.5 660.1,241.0 660.2,240.5 660.2,240.0 660.3,239.5 660.4,239.0 660.5,238.5 660.6,238.0 660.7,237.5 660.7,237.0 660.8,236.5 660.9,236.0 661.0,235.5 661.1,235.0 661.2,234.5 661.3,234.0 661.4,233.5 661.5,233.0 661.7,232.5 661.8,232.0 661.9,231.5 662.0,231.0 662.1,230.5 662.3,230.0 662.4,229.5 662.5,229.0 662.7,228.5 662.8,228.0 663.0,227.5 663.1,227.0 663.3,226.5 663.4,226.0 663.6,225.5 663.8,225.0 664.0,224.5 664.1,224.0 664.3,223.5 664.5,223.0 664.7,222.5 664.9,222.0 665.0,221.5 665.2,221.0 665.4,220.5 665.6,220.0 665.8,219.5 666.0,219.0 666.2,218.5 666.4,218.0 666.6,217.5 666.9,217.0 667.1,216.5 667.3,216.0 667.5,215.5 667.7,215.0 668.0,214.5 668.2,214.0 668.4,213.5 668.7,213.0 668.9,212.5 669.1,212.0 669.4,211.5 669.6,211.0 669.9,210.5 670.1,210.0 670.4,209.5 670.6,209.0 670.9,208.5 671.1,208.0 671.4,207.5 671.6,207.0 671.9,206.5 672.1,206.0 672.4,205.5 672.6,205.0 672.9,204.5 673.2,204.0 673.4,203.5 673.7,203.0 673.9,202.5 674.2,202.0 674.5,201.5 674.7,201.0 675.0,200.5 675.2,200.0 675.5,199.5 675.8,199.0 676.0,198.5 676.2,198.0 676.5,197.5 676.7,197.0 676.9,196.5 677.2,196.0 677.4,195.5 677.6,195.0 677.8,194.5 678.0,194.0 678.2,193.5 678.4,193.0 678.6,192.5 678.8,192.0 679.0,191.5 679.2,191.0 679.4,190.5 679.5,190.0 679.7,189.5 679.9,189.0 680.1,188.5 680.3,188.0 680.4,187.5 680.6,187.0 680.8,186.5 680.9,186.0 681.1,185.5 681.3,185.0 681.4,184.5 681.6,184.0 681.7,183.5 681.9,183.0 682.1,182.5 682.2,182.0 682.4,181.5 682.5,181.0 682.7,180.5 682.9,180.0 683.0,179.5 683.2,179.0 683.3,178.5 683.5,178.0 683.7,177.5 683.8,177.0 684.0,176.5 684.1,176.0 684.3,175.5 684.5,175.0 684.6,174.5 684.8,174.0 685.0,173.5 685.2,173.0 685.4,172.5 685.5,172.0 685.7,171.5 685.9,171.0 686.1,170.5 686.3,170.0 686.5,169.5 686.7,169.0 687.0,168.5 687.2,168.0 687.4,167.5 687.6,167.0 687.8,166.5 688.0,166.0 688.2,165.5 688.4,165.0 688.6,164.5 688.8,164.0 689.0,163.5 689.2,163.0 689.3,162.5 689.5,162.0 689.7,161.5 689.9,161.0 690.1,160.5 690.3,160.0 690.5,159.5 690.6,159.0 690.8,158.5 691.0,158.0 691.2,157.5 691.4,157.0 691.5,156.5 691.7,156.0 691.9,155.5 692.0,155.0 692.1,154.5 692.3,154.0 692.3,153.5 692.4,153.0 692.5,152.5 692.6,152.0 692.6,151.5 692.7,151.0 692.8,150.5 692.8,150.0 692.9,149.5 692.9,149.0 693.0,148.5 693.0,148.0 693.1,147.5 693.2,147.0 693.2,146.5 693.3,146.0 693.4,145.5 693.5,145.0 693.6,144.5 693.6,144.0 693.7,143.5 693.8,143.0 693.9,142.5 694.0,142.0 694.1,141.5 694.2,141.0 694.3,140.5 694.4,140.0 694.5,139.5 694.6,139.0 694.7,138.5 694.8,138.0 694.9,137.5 695.0,137.0 695.1,136.5 695.1,136.0 695.2,135.5 695.3,135.0 695.4,134.5 695.5,134.0 695.6,133.5 695.7,133.0 695.8,132.5 695.9,132.0 696.0,131.5 696.1,131.0 696.2,130.5 696.3,130.0 696.3,129.5 696.4,129.0 696.5,128.5 696.6,128.0 696.7,127.5 696.8,127.0 696.9,126.5 696.9,126.0 697.0,125.5 697.1,125.0 697.2,124.5 697.3,124.0 697.3,123.5 697.4,123.0 697.5,122.5 697.6,122.0 697.6,121.5 697.7,121.0 697.8,120.5 697.9,120.0 698.0,119.5 698.0,119.0 698.1,118.5 698.2,118.0 698.3,117.5 698.4,117.0 698.4,116.5 698.5,116.0 698.6,115.5 698.7,115.0 698.8,114.5 698.9,114.0 699.0,113.5 699.1,113.0 699.1,112.5 699.2,112.0 699.3,111.5 699.4,111.0 699.5,110.5 699.5,110.0 699.6,109.5 699.7,109.0 699.8,108.5 699.8,108.0 699.9,107.5 699.9,107.0 700.0,106.5 700.1,106.0 700.1,105.5 700.2,105.0 700.3,104.5 700.3,104.0 700.4,103.5 700.5,103.0 700.5,102.5 700.6,102.0 700.6,101.5 700.6,101.0 700.6,100.5 700.6,100.0 700.6,99.5 700.6,99.0 700.6,98.5 700.6,98.0 700.6,97.5 700.6,97.0 700.6,96.5 700.6,96.0 700.6,95.5 700.6,95.0 700.6,94.5 700.6,94.0 700.6,93.5 700.6,93.0 700.6,92.5 700.6,92.0 700.6,91.5 700.6,91.0 700.6,90.5 700.6,90.0 700.6,89.5 700.6,89.0 700.6,88.5 700.6,88.0 700.6,87.5 700.7,87.0 700.7,86.5 700.7,86.0 700.7,85.5 700.7,85.0 700.7,84.5 700.7,84.0 700.7,83.5 700.7,83.0 700.7,82.5 700.7,82.0 700.7,81.5 700.7,81.0 700.7,80.5 700.7,80.0 700.7,79.5 700.7,79.0 700.7,78.5 700.7,78.0 700.7,77.5 700.7,77.0 700.7,76.5 700.7,76.0 700.7,75.5 700.7,75.0 700.7,74.5 700.7,74.0 700.7,73.5 700.7,73.0 700.7,72.5 700.7,72.0 700.7,71.5 700.7,71.0 700.7,70.5 700.7,70.0 700.7,69.5 700.7,69.0 700.7,68.5 700.7,68.0 700.7,67.5 700.7,67.0 700.7,66.5 700.7,66.0 700.7,65.5 700.7,65.0 700.7,64.5 700.7,64.0 700.7,63.5 700.7,63.0 700.7,62.5 700.7,62.0 700.7,61.5 700.7,61.0 700.7,60.5 700.7,60.0 700.7,59.5 700.7,59.0 700.7,58.5 700.7,58.0 700.7,57.5 700.7,57.0 700.7,56.5 700.7,56.0 700.7,55.5 700.7,55.0 700.7,54.5 700.7,54.0 700.7,53.5 700.7,53.0 700.7,52.5 700.7,52.0 700.7,51.5 700.7,51.0 700.7,50.5 700.7,50.0 700.7,49.5 700.7,49.0 700.7,48.5 700.7,48.0 700.7,47.5 700.7,47.0 700.7,46.5 700.7,46.0 700.7,45.5 700.7,45.0 700.7,44.5 700.7,44.0 700.7,43.5 700.7,43.0 700.7,42.5 700.7,42.0 700.7,41.5 700.7,41.0 700.7,40.5 700.7,40.0 700.7,39.5 700.7,39.0 700.7,38.5 700.7,38.0 700.7,37.5 700.7,37.0 700.7,36.5 700.7,36.0 700.7,35.5 700.7,35.0 700.7,34.5 700.7,34.0 700.7,33.5 700.7,33.0 700.7,32.5 700.7,32.0 700.7,31.5 700.7,31.0 700.7,30.5 700.7,30.0 700.7,29.5 700.7,29.0 700.7,28.5 700.7,28.0 700.7,27.5 700.7,27.0 700.7,26.5 700.8,26.0 700.8,25.5 700.8,25.0 700.8,24.5 700.8,24.0Z" fill="none" stroke="#00FFFF" stroke-width="1.6" stroke-linejoin="round"/><path d="M206.2,209.8 206.2,210.2 206.2,210.8 206.2,211.2 206.2,211.8 206.2,212.2 206.2,212.8 206.2,213.2 206.2,213.8 206.2,214.2 206.2,214.8 206.2,215.2 206.2,215.8 206.2,216.2 206.2,216.8 206.2,217.2 206.2,217.8 206.2,218.2 206.2,218.8 206.2,219.2 206.2,219.8 206.2,220.2 206.2,220.8 206.2,221.2 206.2,221.8 206.2,222.2 206.2,222.8 206.2,223.2 206.2,223.8 206.2,224.2 206.2,224.8 206.2,225.2 206.2,225.8 206.2,226.2 206.2,226.8 206.2,227.2 206.2,227.8 206.2,228.2 206.2,228.8 206.2,229.2 206.3,229.8 206.3,230.2 206.3,230.8 206.3,231.2 206.3,231.8 206.5,232.2 206.6,232.8 206.8,233.2 207.0,233.8 207.2,234.2 207.5,234.8 207.7,235.2 207.9,235.8 208.2,236.2 208.4,236.8 208.7,237.2 208.9,237.8 209.2,238.2 209.5,238.8 209.7,239.2 210.0,239.8 210.3,240.2 210.7,240.8 211.0,241.2 211.4,241.8 211.8,242.2 212.2,242.8 212.7,243.2 213.2,243.8 213.7,244.2 214.3,244.8 214.9,245.2 215.6,245.8 216.2,246.2 216.9,246.8 217.6,247.2 218.3,247.8 219.1,248.2 219.9,248.8 220.7,249.2 221.5,249.8 222.4,250.2 223.3,250.8 224.3,251.2 225.3,251.8 226.3,252.2 227.4,252.8 228.6,253.2 229.8,253.8 231.0,254.2 232.4,254.8 233.8,255.2 235.4,255.8 237.0,256.2 238.7,256.8 240.5,257.2 242.3,257.8 244.1,258.2 245.9,258.8 247.7,259.2 249.4,259.8 251.0,260.2 252.7,260.8 254.4,261.2 256.0,261.8 257.7,262.2 259.3,262.8 261.0,263.2 262.7,263.8 264.5,264.2 266.2,264.8 268.0,265.2 269.9,265.8 271.8,266.2 273.7,266.8 275.8,267.2 278.0,267.8 280.3,268.2 282.7,268.8 285.1,269.2 287.4,269.8 289.7,270.2 291.9,270.8 293.9,271.2 295.9,271.8 297.9,272.2 299.9,272.8 301.9,273.2 303.8,273.8 305.6,274.2 307.3,274.8 308.7,275.2 309.9,275.8 310.9,276.2 311.8,276.8 312.6,277.2 313.3,277.8 313.9,278.2 314.5,278.8 315.0,279.2 315.4,279.8 315.8,280.2 316.1,280.8 316.4,281.2 316.6,281.8 316.7,282.2 316.8,282.8 316.8,283.2 316.7,283.8 316.5,284.2 316.3,284.8 316.0,285.2 315.5,285.8 314.8,286.2 313.8,286.8 312.5,287.2 311.0,287.8 309.4,288.2 307.7,288.8 306.0,289.2 304.4,289.8 302.7,290.2 301.0,290.8 299.4,291.2 297.7,291.8 296.1,292.2 294.4,292.8 292.8,293.2 291.1,293.8 289.5,294.2 287.8,294.8 286.2,295.2 284.6,295.8 282.9,296.2 281.2,296.8 279.4,297.2 277.6,297.8 275.7,298.2 273.7,298.8 271.7,299.2 269.7,299.8 267.6,300.2 265.6,300.8 263.6,301.2 261.5,301.8 259.3,302.2 256.9,302.8 254.4,303.2 251.9,303.8 249.4,304.2 247.0,304.8 244.8,305.2 242.8,305.8 240.9,306.2 239.2,306.8 237.6,307.2 236.1,307.8 234.6,308.2 233.1,308.8 231.7,309.2 230.4,309.8 229.1,310.2 227.8,310.8 226.5,311.2 225.3,311.8 224.1,312.2 222.9,312.8 221.8,313.2 220.7,313.8 219.7,314.2 218.8,314.8 217.9,315.2 217.1,315.8 216.3,316.2 215.6,316.8 215.0,317.2 214.3,317.8 213.8,318.2 213.2,318.8 212.7,319.2 212.3,319.8 211.8,320.2 211.4,320.8 211.1,321.2 210.7,321.8 210.4,322.2 210.1,322.8 209.8,323.2 209.5,323.8 209.3,324.2 209.1,324.8 208.8,325.2 208.6,325.8 208.4,326.2 208.2,326.8 208.1,327.2 207.9,327.8 207.8,328.2 207.6,328.8 207.5,329.2 207.4,329.8 207.2,330.2 207.1,330.8 207.0,331.2 206.9,331.8 206.8,332.2 206.7,332.8 206.5,333.2 206.4,333.8 206.3,334.2 206.3,334.8 206.3,335.2 206.3,335.8 206.3,336.2 206.3,336.8 206.3,337.2 206.3,337.8 206.3,338.2 206.3,338.8 206.2,339.2 206.2,339.8 206.2,340.2 206.2,340.8 206.2,341.2 206.2,341.8 206.2,342.2 206.2,342.8 206.2,343.2 206.2,343.8 206.2,344.2 206.2,344.8 206.2,345.2 206.2,345.8 206.2,346.2 206.2,346.8 206.2,347.2 206.2,347.8 206.2,348.2 206.2,348.8 206.2,349.2 206.2,349.8 206.2,350.2 206.2,350.8 206.2,351.2 206.2,351.8 206.2,352.2 206.2,352.8 206.2,353.2 206.2,353.8 206.2,354.1 206.1,354.1 206.1,353.8 206.1,353.2 206.1,352.8 206.1,352.2 206.1,351.8 206.1,351.2 206.1,350.8 206.1,350.2 206.1,349.8 206.1,349.2 206.1,348.8 206.1,348.2 206.1,347.8 206.1,347.2 206.1,346.8 206.1,346.2 206.1,345.8 206.1,345.2 206.1,344.8 206.1,344.2 206.1,343.8 206.1,343.2 206.1,342.8 206.1,342.2 206.1,341.8 206.1,341.2 206.1,340.8 206.1,340.2 206.1,339.8 206.1,339.2 206.0,338.8 206.0,338.2 206.0,337.8 206.0,337.2 206.0,336.8 206.0,336.2 206.0,335.8 206.0,335.2 206.0,334.8 206.0,334.2 205.9,333.8 205.8,333.2 205.6,332.8 205.5,332.2 205.4,331.8 205.3,331.2 205.2,330.8 205.1,330.2 204.9,329.8 204.8,329.2 204.7,328.8 204.5,328.2 204.4,327.8 204.2,327.2 204.1,326.8 203.9,326.2 203.7,325.8 203.5,325.2 203.2,324.8 203.0,324.2 202.8,323.8 202.5,323.2 202.2,322.8 201.9,322.2 201.6,321.8 201.2,321.2 200.9,320.8 200.5,320.2 200.0,319.8 199.6,319.2 199.1,318.8 198.5,318.2 198.0,317.8 197.3,317.2 196.7,316.8 196.0,316.2 195.2,315.8 194.4,315.2 193.5,314.8 192.6,314.2 191.6,313.8 190.5,313.2 189.4,312.8 188.2,312.2 187.0,311.8 185.8,311.2 184.5,310.8 183.2,310.2 181.9,309.8 180.6,309.2 179.2,308.8 177.7,308.2 176.2,307.8 174.7,307.2 173.1,306.8 171.4,306.2 169.5,305.8 167.5,305.2 165.3,304.8 162.9,304.2 160.4,303.8 157.9,303.2 155.4,302.8 153.0,302.2 150.8,301.8 148.7,301.2 146.7,300.8 144.7,300.2 142.6,299.8 140.6,299.2 138.6,298.8 136.6,298.2 134.7,297.8 132.9,297.2 131.1,296.8 129.4,296.2 127.7,295.8 126.1,295.2 124.5,294.8 122.8,294.2 121.2,293.8 119.5,293.2 117.9,292.8 116.2,292.2 114.6,291.8 112.9,291.2 111.3,290.8 109.6,290.2 107.9,289.8 106.3,289.2 104.6,288.8 102.9,288.2 101.3,287.8 99.8,287.2 98.5,286.8 97.5,286.2 96.8,285.8 96.3,285.2 96.0,284.8 95.8,284.2 95.6,283.8 95.5,283.2 95.5,282.8 95.6,282.2 95.7,281.8 95.9,281.2 96.2,280.8 96.5,280.2 96.9,279.8 97.3,279.2 97.8,278.8 98.4,278.2 99.0,277.8 99.7,277.2 100.5,276.8 101.4,276.2 102.4,275.8 103.6,275.2 105.0,274.8 106.7,274.2 108.5,273.8 110.4,273.2 112.4,272.8 114.4,272.2 116.4,271.8 118.4,271.2 120.4,270.8 122.6,270.2 124.9,269.8 127.2,269.2 129.6,268.8 132.0,268.2 134.3,267.8 136.5,267.2 138.6,266.8 140.5,266.2 142.4,265.8 144.3,265.2 146.1,264.8 147.8,264.2 149.6,263.8 151.3,263.2 153.0,262.8 154.6,262.2 156.3,261.8 157.9,261.2 159.6,260.8 161.3,260.2 162.9,259.8 164.6,259.2 166.4,258.8 168.2,258.2 170.0,257.8 171.8,257.2 173.6,256.8 175.3,256.2 176.9,255.8 178.5,255.2 179.9,254.8 181.3,254.2 182.5,253.8 183.7,253.2 184.9,252.8 186.0,252.2 187.0,251.8 188.0,251.2 189.0,250.8 189.9,250.2 190.8,249.8 191.6,249.2 192.4,248.8 193.2,248.2 194.0,247.8 194.7,247.2 195.4,246.8 196.1,246.2 196.7,245.8 197.4,245.2 198.0,244.8 198.6,244.2 199.1,243.8 199.6,243.2 200.1,242.8 200.5,242.2 200.9,241.8 201.3,241.2 201.6,240.8 202.0,240.2 202.3,239.8 202.6,239.2 202.8,238.8 203.1,238.2 203.4,237.8 203.6,237.2 203.9,236.8 204.1,236.2 204.4,235.8 204.6,235.2 204.8,234.8 205.1,234.2 205.3,233.8 205.5,233.2 205.7,232.8 205.8,232.2 206.0,231.8 206.0,231.2 206.0,230.8 206.0,230.2 206.0,229.8 206.1,229.2 206.1,228.8 206.1,228.2 206.1,227.8 206.1,227.2 206.1,226.8 206.1,226.2 206.1,225.8 206.1,225.2 206.1,224.8 206.1,224.2 206.1,223.8 206.1,223.2 206.1,222.8 206.1,222.2 206.1,221.8 206.1,221.2 206.1,220.8 206.1,220.2 206.1,219.8 206.1,219.2 206.1,218.8 206.1,218.2 206.1,217.8 206.1,217.2 206.1,216.8 206.1,216.2 206.1,215.8 206.1,215.2 206.1,214.8 206.1,214.2 206.1,213.8 206.1,213.2 206.1,212.8 206.1,212.2 206.1,211.8 206.1,211.2 206.1,210.8 206.1,210.2 206.1,209.8Z" fill="none" stroke="#000000" stroke-width="1.6" stroke-linejoin="round"/><path d="M453.4,154.8 453.4,155.3 453.4,155.8 453.4,156.3 453.4,156.8 453.4,157.3 453.4,157.8 453.4,158.3 453.4,158.8 453.4,159.3 453.4,159.8 453.4,160.3 453.4,160.8 453.4,161.3 453.4,161.8 453.4,162.3 453.4,162.8 453.4,163.3 453.4,163.8 453.4,164.3 453.4,164.8 453.4,165.3 453.4,165.8 453.4,166.3 453.4,166.8 453.4,167.3 453.4,167.8 453.4,168.3 453.4,168.8 453.4,169.3 453.4,169.8 453.4,170.3 453.4,170.8 453.4,171.3 453.4,171.8 453.4,172.3 453.4,172.8 453.4,173.3 453.4,173.8 453.5,174.3 453.5,174.8 453.5,175.3 453.5,175.8 453.5,176.3 453.5,176.8 453.5,177.3 453.5,177.8 453.5,178.3 453.5,178.8 453.5,179.3 453.5,179.8 453.5,180.3 453.5,180.8 453.5,181.3 453.5,181.8 453.5,182.3 453.5,182.8 453.6,183.3 453.6,183.8 453.7,184.3 453.8,184.8 453.9,185.3 453.9,185.8 454.0,186.3 454.1,186.8 454.2,187.3 454.3,187.8 454.4,188.3 454.5,188.8 454.7,189.3 454.8,189.8 455.0,190.3 455.2,190.8 455.4,191.3 455.6,191.8 455.8,192.3 456.0,192.8 456.1,193.3 456.3,193.8 456.5,194.3 456.7,194.8 456.9,195.3 457.1,195.8 457.4,196.3 457.6,196.8 457.8,197.3 458.1,197.8 458.4,198.3 458.6,198.8 458.9,199.3 459.2,199.8 459.5,200.3 459.7,200.8 460.0,201.3 460.2,201.8 460.5,202.3 460.7,202.8 461.0,203.3 461.3,203.8 461.6,204.3 461.9,204.8 462.3,205.3 462.7,205.8 463.1,206.3 463.5,206.8 464.0,207.3 464.5,207.8 465.0,208.3 465.4,208.8 465.9,209.3 466.4,209.8 466.9,210.3 467.4,210.8 467.9,211.3 468.4,211.8 468.9,212.3 469.5,212.8 470.1,213.3 470.7,213.8 471.4,214.3 472.1,214.8 472.8,215.3 473.6,215.8 474.3,216.3 475.1,216.8 475.8,217.3 476.6,217.8 477.4,218.3 478.2,218.8 479.0,219.3 479.8,219.8 480.6,220.3 481.4,220.8 482.2,221.3 483.0,221.8 483.8,222.3 484.6,222.8 485.5,223.3 486.3,223.8 487.1,224.3 487.9,224.8 488.7,225.3 489.5,225.8 490.2,226.3 491.0,226.8 491.8,227.3 492.6,227.8 493.4,228.3 494.3,228.8 495.1,229.3 496.0,229.8 496.9,230.3 497.8,230.8 498.8,231.3 499.8,231.8 500.8,232.3 501.9,232.8 502.9,233.3 503.9,233.8 504.9,234.3 506.0,234.8 507.0,235.3 508.0,235.8 509.0,236.3 510.0,236.8 511.0,237.3 512.0,237.8 512.9,238.3 513.8,238.8 514.7,239.3 515.6,239.8 516.5,240.3 517.3,240.8 518.2,241.3 519.0,241.8 519.9,242.3 520.6,242.8 521.3,243.3 522.0,243.8 522.6,244.3 523.2,244.8 523.8,245.3 524.3,245.8 524.8,246.3 525.2,246.8 525.7,247.3 526.1,247.8 526.4,248.3 526.8,248.8 527.1,249.3 527.4,249.8 527.7,250.3 528.0,250.8 528.2,251.3 528.5,251.8 528.7,252.3 528.9,252.8 529.0,253.3 529.2,253.8 529.3,254.3 529.5,254.8 529.6,255.3 529.7,255.8 529.7,256.3 529.7,256.8 529.7,257.3 529.6,257.8 529.5,258.3 529.3,258.8 529.0,259.3 528.8,259.8 528.4,260.3 528.1,260.8 527.7,261.3 527.3,261.8 526.8,262.3 526.2,262.8 525.7,263.3 525.0,263.8 524.4,264.3 523.7,264.8 522.9,265.3 522.1,265.8 521.3,266.3 520.6,266.8 519.8,267.3 519.0,267.8 518.3,268.3 517.5,268.8 516.8,269.3 516.0,269.8 515.2,270.3 514.4,270.8 513.5,271.3 512.7,271.8 511.7,272.3 510.8,272.8 509.9,273.3 509.0,273.8 508.0,274.3 507.0,274.8 506.0,275.3 505.0,275.8 503.9,276.3 502.8,276.8 501.7,277.3 500.6,277.8 499.4,278.3 498.3,278.8 497.1,279.3 495.9,279.8 494.7,280.3 493.5,280.8 492.3,281.3 491.2,281.8 490.0,282.3 488.9,282.8 487.9,283.3 486.9,283.8 485.9,284.3 485.0,284.8 484.1,285.3 483.3,285.8 482.5,286.3 481.6,286.8 480.8,287.3 480.0,287.8 479.1,288.3 478.3,288.8 477.5,289.3 476.7,289.8 475.9,290.3 475.2,290.8 474.6,291.3 474.0,291.8 473.5,292.3 473.0,292.8 472.5,293.3 472.0,293.8 471.5,294.3 471.0,294.8 470.4,295.3 469.8,295.8 469.2,296.3 468.5,296.8 467.9,297.3 467.3,297.8 466.7,298.3 466.1,298.8 465.6,299.3 465.0,299.8 464.6,300.3 464.1,300.8 463.7,301.3 463.3,301.8 463.0,302.3 462.7,302.8 462.4,303.3 462.1,303.8 461.8,304.3 461.5,304.8 461.2,305.3 461.0,305.8 460.7,306.3 460.4,306.8 460.2,307.3 459.9,307.8 459.6,308.3 459.3,308.8 459.1,309.3 458.8,309.8 458.5,310.3 458.3,310.8 458.0,311.3 457.8,311.8 457.5,312.3 457.3,312.8 457.1,313.3 456.8,313.8 456.6,314.3 456.4,314.8 456.1,315.3 455.9,315.8 455.7,316.3 455.5,316.8 455.3,317.3 455.1,317.8 454.9,318.3 454.8,318.8 454.6,319.3 454.4,319.8 454.3,320.3 454.1,320.8 454.0,321.3 453.9,321.8 453.7,322.3 453.6,322.8 453.5,323.3 453.5,323.8 453.5,324.3 453.5,324.8 453.5,325.3 453.5,325.8 453.5,326.3 453.4,326.8 453.4,327.3 453.4,327.8 453.4,328.3 453.4,328.8 453.4,329.3 453.4,329.8 453.4,330.3 453.4,330.8 453.4,331.3 453.4,331.8 453.4,332.3 453.4,332.8 453.4,333.3 453.4,333.8 453.4,334.3 453.4,334.8 453.4,335.3 453.4,335.8 453.4,336.3 453.4,336.8 453.4,337.3 453.4,337.8 453.4,338.3 453.4,338.8 453.4,339.3 453.4,339.8 453.4,340.3 453.4,340.8 453.4,341.3 453.4,341.8 453.4,342.3 453.4,342.8 453.4,343.3 453.4,343.8 453.4,344.3 453.4,344.8 453.4,345.3 453.4,345.8 453.4,346.3 453.4,346.8 453.4,347.3 453.4,347.8 453.4,348.3 453.4,348.8 453.4,349.3 453.4,349.8 453.4,350.3 453.4,350.8 453.4,351.3 453.4,351.8 453.4,352.3 453.4,352.8 453.4,353.3 453.4,353.8 453.4,354.3 453.4,354.8 453.4,355.3 453.4,355.8 453.4,356.3 453.4,356.8 453.4,357.3 453.4,357.8 453.4,358.3 453.4,358.8 453.4,359.3 453.4,359.8 453.4,360.3 453.4,360.8 453.4,361.3 453.4,361.8 453.4,362.3 453.4,362.8 453.4,363.3 453.4,363.8 453.4,364.3 453.4,364.8 453.4,365.3 453.4,365.8 453.4,366.3 453.4,366.8 453.4,367.3 453.4,367.8 453.4,368.3 453.4,368.8 453.4,369.3 453.4,369.8 453.4,370.3 453.4,370.8 453.4,371.3 453.4,371.8 453.4,372.3 453.4,372.8 453.4,373.3 453.4,373.8 453.4,374.3 453.4,374.8 453.4,375.3 453.4,375.8 453.4,376.3 453.4,376.8 453.4,377.3 453.4,377.8 453.4,378.3 453.4,378.8 453.4,378.9 453.3,378.9 453.3,378.8 453.3,378.3 453.3,377.8 453.3,377.3 453.3,376.8 453.3,376.3 453.3,375.8 453.3,375.3 453.3,374.8 453.3,374.3 453.3,373.8 453.3,373.3 453.3,372.8 453.3,372.3 453.3,371.8 453.3,371.3 453.3,370.8 453.3,370.3 453.3,369.8 453.3,369.3 453.3,368.8 453.3,368.3 453.3,367.8 453.3,367.3 453.3,366.8 453.3,366.3 453.3,365.8 453.3,365.3 453.3,364.8 453.3,364.3 453.3,363.8 453.3,363.3 453.3,362.8 453.3,362.3 453.3,361.8 453.3,361.3 453.3,360.8 453.3,360.3 453.3,359.8 453.3,359.3 453.3,358.8 453.3,358.3 453.3,357.8 453.3,357.3 453.3,356.8 453.3,356.3 453.3,355.8 453.3,355.3 453.3,354.8 453.3,354.3 453.3,353.8 453.3,353.3 453.3,352.8 453.3,352.3 453.3,351.8 453.3,351.3 453.3,350.8 453.3,350.3 453.3,349.8 453.3,349.3 453.3,348.8 453.3,348.3 453.3,347.8 453.3,347.3 453.3,346.8 453.3,346.3 453.3,345.8 453.3,345.3 453.3,344.8 453.3,344.3 453.3,343.8 453.3,343.3 453.3,342.8 453.3,342.3 453.3,341.8 453.3,341.3 453.3,340.8 453.3,340.3 453.3,339.8 453.3,339.3 453.3,338.8 453.3,338.3 453.3,337.8 453.3,337.3 453.3,336.8 453.3,336.3 453.3,335.8 453.3,335.3 453.3,334.8 453.3,334.3 453.3,333.8 453.3,333.3 453.3,332.8 453.3,332.3 453.3,331.8 453.3,331.3 453.3,330.8 453.3,330.3 453.3,329.8 453.3,329.3 453.3,328.8 453.3,328.3 453.3,327.8 453.3,327.3 453.3,326.8 453.2,326.3 453.2,325.8 453.2,325.3 453.2,324.8 453.2,324.3 453.2,323.8 453.2,323.3 453.1,322.8 453.0,322.3 452.8,321.8 452.7,321.3 452.6,320.8 452.4,320.3 452.3,319.8 452.1,319.3 451.9,318.8 451.8,318.3 451.6,317.8 451.4,317.3 451.2,316.8 451.0,316.3 450.8,315.8 450.6,315.3 450.3,314.8 450.1,314.3 449.9,313.8 449.6,313.3 449.4,312.8 449.2,312.3 448.9,311.8 448.7,311.3 448.4,310.8 448.2,310.3 447.9,309.8 447.6,309.3 447.4,308.8 447.1,308.3 446.8,307.8 446.5,307.3 446.3,306.8 446.0,306.3 445.7,305.8 445.5,305.3 445.2,304.8 444.9,304.3 444.6,303.8 444.3,303.3 444.0,302.8 443.7,302.3 443.4,301.8 443.0,301.3 442.6,300.8 442.1,300.3 441.7,299.8 441.1,299.3 440.6,298.8 440.0,298.3 439.4,297.8 438.8,297.3 438.2,296.8 437.5,296.3 436.9,295.8 436.3,295.3 435.7,294.8 435.2,294.3 434.7,293.8 434.2,293.3 433.7,292.8 433.2,292.3 432.7,291.8 432.1,291.3 431.5,290.8 430.8,290.3 430.0,289.8 429.2,289.3 428.4,288.8 427.6,288.3 426.7,287.8 425.9,287.3 425.1,286.8 424.2,286.3 423.4,285.8 422.6,285.3 421.7,284.8 420.8,284.3 419.8,283.8 418.8,283.3 417.8,282.8 416.7,282.3 415.5,281.8 414.4,281.3 413.2,280.8 412.0,280.3 410.8,279.8 409.6,279.3 408.4,278.8 407.3,278.3 406.1,277.8 405.0,277.3 403.9,276.8 402.8,276.3 401.7,275.8 400.7,275.3 399.7,274.8 398.7,274.3 397.7,273.8 396.8,273.3 395.9,272.8 395.0,272.3 394.0,271.8 393.2,271.3 392.3,270.8 391.5,270.3 390.7,269.8 389.9,269.3 389.2,268.8 388.4,268.3 387.7,267.8 386.9,267.3 386.1,266.8 385.4,266.3 384.6,265.8 383.8,265.3 383.0,264.8 382.3,264.3 381.7,263.8 381.0,263.3 380.5,262.8 379.9,262.3 379.4,261.8 379.0,261.3 378.6,260.8 378.3,260.3 377.9,259.8 377.7,259.3 377.4,258.8 377.2,258.3 377.1,257.8 377.0,257.3 377.0,256.8 377.0,256.3 377.0,255.8 377.1,255.3 377.2,254.8 377.4,254.3 377.5,253.8 377.7,253.3 377.8,252.8 378.0,252.3 378.2,251.8 378.5,251.3 378.7,250.8 379.0,250.3 379.3,249.8 379.6,249.3 379.9,248.8 380.3,248.3 380.6,247.8 381.0,247.3 381.5,246.8 381.9,246.3 382.4,245.8 382.9,245.3 383.5,244.8 384.1,244.3 384.7,243.8 385.4,243.3 386.1,242.8 386.8,242.3 387.7,241.8 388.5,241.3 389.4,240.8 390.2,240.3 391.1,239.8 392.0,239.3 392.9,238.8 393.8,238.3 394.7,237.8 395.7,237.3 396.7,236.8 397.7,236.3 398.7,235.8 399.7,235.3 400.7,234.8 401.8,234.3 402.8,233.8 403.8,233.3 404.8,232.8 405.9,232.3 406.9,231.8 407.9,231.3 408.9,230.8 409.8,230.3 410.7,229.8 411.6,229.3 412.4,228.8 413.3,228.3 414.1,227.8 414.9,227.3 415.7,226.8 416.5,226.3 417.2,225.8 418.0,225.3 418.8,224.8 419.6,224.3 420.4,223.8 421.2,223.3 422.1,222.8 422.9,222.3 423.7,221.8 424.5,221.3 425.3,220.8 426.1,220.3 426.9,219.8 427.7,219.3 428.5,218.8 429.3,218.3 430.1,217.8 430.9,217.3 431.6,216.8 432.4,216.3 433.1,215.8 433.9,215.3 434.6,214.8 435.3,214.3 436.0,213.8 436.6,213.3 437.2,212.8 437.8,212.3 438.3,211.8 438.8,211.3 439.3,210.8 439.8,210.3 440.3,209.8 440.8,209.3 441.3,208.8 441.7,208.3 442.2,207.8 442.7,207.3 443.2,206.8 443.6,206.3 444.0,205.8 444.4,205.3 444.8,204.8 445.1,204.3 445.4,203.8 445.7,203.3 446.0,202.8 446.2,202.3 446.5,201.8 446.7,201.3 447.0,200.8 447.2,200.3 447.5,199.8 447.8,199.3 448.1,198.8 448.3,198.3 448.6,197.8 448.9,197.3 449.1,196.8 449.3,196.3 449.6,195.8 449.8,195.3 450.0,194.8 450.2,194.3 450.4,193.8 450.6,193.3 450.7,192.8 450.9,192.3 451.1,191.8 451.3,191.3 451.5,190.8 451.7,190.3 451.9,189.8 452.0,189.3 452.2,188.8 452.3,188.3 452.4,187.8 452.5,187.3 452.6,186.8 452.7,186.3 452.8,185.8 452.8,185.3 452.9,184.8 453.0,184.3 453.1,183.8 453.1,183.3 453.2,182.8 453.2,182.3 453.2,181.8 453.2,181.3 453.2,180.8 453.2,180.3 453.2,179.8 453.2,179.3 453.2,178.8 453.2,178.3 453.2,177.8 453.2,177.3 453.2,176.8 453.2,176.3 453.2,175.8 453.2,175.3 453.2,174.8 453.2,174.3 453.3,173.8 453.3,173.3 453.3,172.8 453.3,172.3 453.3,171.8 453.3,171.3 453.3,170.8 453.3,170.3 453.3,169.8 453.3,169.3 453.3,168.8 453.3,168.3 453.3,167.8 453.3,167.3 453.3,166.8 453.3,166.3 453.3,165.8 453.3,165.3 453.3,164.8 453.3,164.3 453.3,163.8 453.3,163.3 453.3,162.8 453.3,162.3 453.3,161.8 453.3,161.3 453.3,160.8 453.3,160.3 453.3,159.8 453.3,159.3 453.3,158.8 453.3,158.3 453.3,157.8 453.3,157.3 453.3,156.8 453.3,156.3 453.3,155.8 453.3,155.3 453.3,154.8Z" fill="none" stroke="#000000" stroke-width="1.6" stroke-linejoin="round"/><path d="M700.8,172.5 700.8,173.0 700.8,173.5 700.8,174.0 700.8,174.5 700.8,175.0 700.9,175.5 700.9,176.0 700.9,176.5 700.9,177.0 700.9,177.5 700.9,178.0 700.9,178.5 700.9,179.0 700.9,179.5 700.9,180.0 700.9,180.5 700.9,181.0 700.9,181.5 700.9,182.0 700.9,182.5 700.9,183.0 700.9,183.5 700.9,184.0 700.9,184.5 700.9,185.0 700.9,185.5 700.9,186.0 700.9,186.5 700.9,187.0 700.9,187.5 700.9,188.0 700.9,188.5 700.9,189.0 700.9,189.5 700.9,190.0 700.9,190.5 700.9,191.0 700.9,191.5 700.9,192.0 700.9,192.5 700.9,193.0 700.9,193.5 700.9,194.0 700.9,194.5 700.9,195.0 700.9,195.5 700.9,196.0 700.9,196.5 700.9,197.0 700.9,197.5 701.0,198.0 701.0,198.5 701.0,199.0 701.0,199.5 701.0,200.0 701.0,200.5 701.0,201.0 701.0,201.5 701.0,202.0 701.0,202.5 701.0,203.0 701.0,203.5 701.0,204.0 701.0,204.5 701.1,205.0 701.1,205.5 701.2,206.0 701.3,206.5 701.5,207.0 701.6,207.5 701.7,208.0 701.9,208.5 702.1,209.0 702.2,209.5 702.4,210.0 702.6,210.5 702.8,211.0 703.0,211.5 703.2,212.0 703.5,212.5 703.7,213.0 704.0,213.5 704.2,214.0 704.4,214.5 704.6,215.0 704.8,215.5 704.9,216.0 705.1,216.5 705.3,217.0 705.5,217.5 705.6,218.0 705.8,218.5 706.0,219.0 706.2,219.5 706.4,220.0 706.6,220.5 706.9,221.0 707.1,221.5 707.4,222.0 707.6,222.5 707.9,223.0 708.2,223.5 708.5,224.0 708.9,224.5 709.2,225.0 709.6,225.5 709.9,226.0 710.3,226.5 710.6,227.0 711.0,227.5 711.3,228.0 711.7,228.5 712.1,229.0 712.5,229.5 713.0,230.0 713.5,230.5 714.0,231.0 714.6,231.5 715.2,232.0 715.8,232.5 716.4,233.0 717.1,233.5 717.7,234.0 718.4,234.5 719.0,235.0 719.7,235.5 720.4,236.0 721.1,236.5 721.8,237.0 722.5,237.5 723.2,238.0 724.0,238.5 724.7,239.0 725.5,239.5 726.3,240.0 727.1,240.5 727.8,241.0 728.6,241.5 729.4,242.0 730.2,242.5 731.0,243.0 731.8,243.5 732.6,244.0 733.5,244.5 734.3,245.0 735.1,245.5 735.9,246.0 736.7,246.5 737.5,247.0 738.3,247.5 739.1,248.0 739.9,248.5 740.7,249.0 741.5,249.5 742.3,250.0 743.1,250.5 743.9,251.0 744.8,251.5 745.6,252.0 746.4,252.5 747.2,253.0 748.0,253.5 748.8,254.0 749.6,254.5 750.4,255.0 751.2,255.5 752.0,256.0 752.7,256.5 753.5,257.0 754.2,257.5 755.0,258.0 755.8,258.5 756.5,259.0 757.3,259.5 758.0,260.0 758.8,260.5 759.6,261.0 760.3,261.5 761.1,262.0 761.9,262.5 762.6,263.0 763.3,263.5 764.1,264.0 764.8,264.5 765.5,265.0 766.2,265.5 766.9,266.0 767.6,266.5 768.2,267.0 768.8,267.5 769.3,268.0 769.9,268.5 770.4,269.0 770.8,269.5 771.3,270.0 771.6,270.5 772.0,271.0 772.3,271.5 772.6,272.0 772.8,272.5 773.0,273.0 773.2,273.5 773.4,274.0 773.5,274.5 773.6,275.0 773.6,275.5 773.7,276.0 773.7,276.5 773.7,277.0 773.7,277.5 773.7,278.0 773.6,278.5 773.6,279.0 773.5,279.5 773.4,280.0 773.3,280.5 773.1,281.0 772.8,281.5 772.5,282.0 772.1,282.5 771.7,283.0 771.3,283.5 770.8,284.0 770.3,284.5 769.6,285.0 769.0,285.5 768.3,286.0 767.5,286.5 766.7,287.0 765.9,287.5 765.1,288.0 764.2,288.5 763.3,289.0 762.4,289.5 761.5,290.0 760.6,290.5 759.7,291.0 758.8,291.5 758.0,292.0 757.2,292.5 756.5,293.0 755.8,293.5 755.1,294.0 754.5,294.5 753.8,295.0 753.1,295.5 752.4,296.0 751.7,296.5 751.0,297.0 750.3,297.5 749.6,298.0 748.9,298.5 748.2,299.0 747.5,299.5 746.7,300.0 746.0,300.5 745.3,301.0 744.5,301.5 743.8,302.0 743.0,302.5 742.2,303.0 741.3,303.5 740.5,304.0 739.6,304.5 738.8,305.0 737.9,305.5 737.1,306.0 736.2,306.5 735.3,307.0 734.5,307.5 733.7,308.0 732.8,308.5 732.0,309.0 731.2,309.5 730.5,310.0 729.7,310.5 728.9,311.0 728.2,311.5 727.5,312.0 726.7,312.5 726.0,313.0 725.3,313.5 724.6,314.0 723.8,314.5 723.1,315.0 722.4,315.5 721.7,316.0 721.0,316.5 720.3,317.0 719.6,317.5 718.9,318.0 718.2,318.5 717.5,319.0 716.9,319.5 716.3,320.0 715.7,320.5 715.2,321.0 714.7,321.5 714.2,322.0 713.8,322.5 713.4,323.0 713.0,323.5 712.6,324.0 712.2,324.5 711.8,325.0 711.3,325.5 710.9,326.0 710.4,326.5 710.0,327.0 709.6,327.5 709.2,328.0 708.8,328.5 708.5,329.0 708.2,329.5 707.9,330.0 707.6,330.5 707.4,331.0 707.1,331.5 706.9,332.0 706.6,332.5 706.4,333.0 706.2,333.5 706.0,334.0 705.8,334.5 705.5,335.0 705.3,335.5 705.1,336.0 704.9,336.5 704.7,337.0 704.5,337.5 704.2,338.0 704.0,338.5 703.9,339.0 703.7,339.5 703.5,340.0 703.3,340.5 703.1,341.0 703.0,341.5 702.8,342.0 702.6,342.5 702.5,343.0 702.3,343.5 702.2,344.0 702.0,344.5 701.9,345.0 701.7,345.5 701.6,346.0 701.4,346.5 701.3,347.0 701.2,347.5 701.0,348.0 701.0,348.5 701.0,349.0 701.0,349.5 701.0,350.0 700.9,350.5 700.9,351.0 700.9,351.5 700.9,352.0 700.9,352.5 700.9,353.0 700.9,353.5 700.9,354.0 700.9,354.5 700.9,355.0 700.9,355.5 700.9,356.0 700.9,356.5 700.9,357.0 700.9,357.5 700.9,358.0 700.9,358.5 700.9,359.0 700.9,359.5 700.9,360.0 700.9,360.5 700.9,361.0 700.9,361.5 700.9,362.0 700.9,362.5 700.9,363.0 700.9,363.5 700.9,364.0 700.9,364.5 700.8,365.0 700.8,365.5 700.8,366.0 700.8,366.5 700.8,367.0 700.8,367.5 700.8,368.0 700.8,368.5 700.8,369.0 700.8,369.5 700.8,370.0 700.8,370.5 700.8,371.0 700.8,371.5 700.8,372.0 700.8,372.5 700.8,373.0 700.8,373.5 700.8,374.0 700.8,374.5 700.8,375.0 700.8,375.5 700.8,376.0 700.8,376.5 700.8,377.0 700.8,377.5 700.8,377.8 700.8,377.8 700.8,377.5 700.8,377.0 700.8,376.5 700.8,376.0 700.8,375.5 700.8,375.0 700.8,374.5 700.8,374.0 700.8,373.5 700.8,373.0 700.8,372.5 700.8,372.0 700.8,371.5 700.8,371.0 700.8,370.5 700.8,370.0 700.8,369.5 700.8,369.0 700.8,368.5 700.8,368.0 700.8,367.5 700.8,367.0 700.8,366.5 700.8,366.0 700.8,365.5 700.8,365.0 700.7,364.5 700.7,364.0 700.7,363.5 700.7,363.0 700.7,362.5 700.7,362.0 700.7,361.5 700.7,361.0 700.7,360.5 700.7,360.0 700.7,359.5 700.7,359.0 700.7,358.5 700.7,358.0 700.7,357.5 700.7,357.0 700.7,356.5 700.7,356.0 700.7,355.5 700.7,355.0 700.7,354.5 700.7,354.0 700.7,353.5 700.7,353.0 700.7,352.5 700.7,352.0 700.7,351.5 700.7,351.0 700.7,350.5 700.6,350.0 700.6,349.5 700.6,349.0 700.6,348.5 700.6,348.0 700.4,347.5 700.3,347.0 700.2,346.5 700.0,346.0 699.9,345.5 699.7,345.0 699.6,344.5 699.4,344.0 699.3,343.5 699.1,343.0 699.0,342.5 698.8,342.0 698.6,341.5 698.5,341.0 698.3,340.5 698.1,340.0 697.9,339.5 697.7,339.0 697.6,338.5 697.4,338.0 697.1,337.5 696.9,337.0 696.7,336.5 696.5,336.0 696.3,335.5 696.1,335.0 695.8,334.5 695.6,334.0 695.4,333.5 695.2,333.0 695.0,332.5 694.7,332.0 694.5,331.5 694.2,331.0 694.0,330.5 693.7,330.0 693.4,329.5 693.1,329.0 692.8,328.5 692.4,328.0 692.0,327.5 691.6,327.0 691.2,326.5 690.7,326.0 690.3,325.5 689.8,325.0 689.4,324.5 689.0,324.0 688.6,323.5 688.2,323.0 687.8,322.5 687.4,322.0 686.9,321.5 686.4,321.0 685.9,320.5 685.3,320.0 684.7,319.5 684.1,319.0 683.4,318.5 682.7,318.0 682.0,317.5 681.3,317.0 680.6,316.5 679.9,316.0 679.2,315.5 678.5,315.0 677.8,314.5 677.0,314.0 676.3,313.5 675.6,313.0 674.9,312.5 674.1,312.0 673.4,311.5 672.7,311.0 671.9,310.5 671.1,310.0 670.4,309.5 669.6,309.0 668.8,308.5 667.9,308.0 667.1,307.5 666.3,307.0 665.4,306.5 664.5,306.0 663.7,305.5 662.8,305.0 662.0,304.5 661.1,304.0 660.3,303.5 659.4,303.0 658.6,302.5 657.8,302.0 657.1,301.5 656.3,301.0 655.6,300.5 654.9,300.0 654.1,299.5 653.4,299.0 652.7,298.5 652.0,298.0 651.3,297.5 650.6,297.0 649.9,296.5 649.2,296.0 648.5,295.5 647.8,295.0 647.1,294.5 646.5,294.0 645.8,293.5 645.1,293.0 644.4,292.5 643.6,292.0 642.8,291.5 641.9,291.0 641.0,290.5 640.1,290.0 639.2,289.5 638.3,289.0 637.4,288.5 636.5,288.0 635.7,287.5 634.9,287.0 634.1,286.5 633.3,286.0 632.6,285.5 632.0,285.0 631.3,284.5 630.8,284.0 630.3,283.5 629.9,283.0 629.5,282.5 629.1,282.0 628.8,281.5 628.5,281.0 628.3,280.5 628.2,280.0 628.1,279.5 628.0,279.0 628.0,278.5 627.9,278.0 627.9,277.5 627.9,277.0 627.9,276.5 627.9,276.0 628.0,275.5 628.0,275.0 628.1,274.5 628.2,274.0 628.4,273.5 628.6,273.0 628.8,272.5 629.0,272.0 629.3,271.5 629.6,271.0 630.0,270.5 630.3,270.0 630.8,269.5 631.2,269.0 631.7,268.5 632.3,268.0 632.8,267.5 633.4,267.0 634.0,266.5 634.7,266.0 635.4,265.5 636.1,265.0 636.8,264.5 637.5,264.0 638.3,263.5 639.0,263.0 639.7,262.5 640.5,262.0 641.3,261.5 642.0,261.0 642.8,260.5 643.6,260.0 644.3,259.5 645.1,259.0 645.8,258.5 646.6,258.0 647.4,257.5 648.1,257.0 648.9,256.5 649.6,256.0 650.4,255.5 651.2,255.0 652.0,254.5 652.8,254.0 653.6,253.5 654.4,253.0 655.2,252.5 656.0,252.0 656.8,251.5 657.7,251.0 658.5,250.5 659.3,250.0 660.1,249.5 660.9,249.0 661.7,248.5 662.5,248.0 663.3,247.5 664.1,247.0 664.9,246.5 665.7,246.0 666.5,245.5 667.3,245.0 668.1,244.5 669.0,244.0 669.8,243.5 670.6,243.0 671.4,242.5 672.2,242.0 673.0,241.5 673.8,241.0 674.5,240.5 675.3,240.0 676.1,239.5 676.9,239.0 677.6,238.5 678.4,238.0 679.1,237.5 679.8,237.0 680.5,236.5 681.2,236.0 681.9,235.5 682.6,235.0 683.2,234.5 683.9,234.0 684.5,233.5 685.2,233.0 685.8,232.5 686.4,232.0 687.0,231.5 687.6,231.0 688.1,230.5 688.6,230.0 689.1,229.5 689.5,229.0 689.9,228.5 690.3,228.0 690.6,227.5 691.0,227.0 691.3,226.5 691.7,226.0 692.0,225.5 692.4,225.0 692.7,224.5 693.1,224.0 693.4,223.5 693.7,223.0 694.0,222.5 694.2,222.0 694.5,221.5 694.7,221.0 695.0,220.5 695.2,220.0 695.4,219.5 695.6,219.0 695.8,218.5 696.0,218.0 696.1,217.5 696.3,217.0 696.5,216.5 696.7,216.0 696.8,215.5 697.0,215.0 697.2,214.5 697.4,214.0 697.6,213.5 697.9,213.0 698.1,212.5 698.4,212.0 698.6,211.5 698.8,211.0 699.0,210.5 699.2,210.0 699.4,209.5 699.5,209.0 699.7,208.5 699.9,208.0 700.0,207.5 700.1,207.0 700.3,206.5 700.4,206.0 700.5,205.5 700.5,205.0 700.6,204.5 700.6,204.0 700.6,203.5 700.6,203.0 700.6,202.5 700.6,202.0 700.6,201.5 700.6,201.0 700.6,200.5 700.6,200.0 700.6,199.5 700.6,199.0 700.6,198.5 700.6,198.0 700.7,197.5 700.7,197.0 700.7,196.5 700.7,196.0 700.7,195.5 700.7,195.0 700.7,194.5 700.7,194.0 700.7,193.5 700.7,193.0 700.7,192.5 700.7,192.0 700.7,191.5 700.7,191.0 700.7,190.5 700.7,190.0 700.7,189.5 700.7,189.0 700.7,188.5 700.7,188.0 700.7,187.5 700.7,187.0 700.7,186.5 700.7,186.0 700.7,185.5 700.7,185.0 700.7,184.5 700.7,184.0 700.7,183.5 700.7,183.0 700.7,182.5 700.7,182.0 700.7,181.5 700.7,181.0 700.7,180.5 700.7,180.0 700.7,179.5 700.7,179.0 700.7,178.5 700.7,178.0 700.7,177.5 700.7,177.0 700.7,176.5 700.7,176.0 700.7,175.5 700.8,175.0 700.8,174.5 700.8,174.0 700.8,173.5 700.8,173.0 700.8,172.5Z" fill="none" stroke="#000000" stroke-width="1.6" stroke-linejoin="round"/></g>
<line x1="57.5" y1="150.6" x2="57.5" y2="503.2" stroke="#000" stroke-width="1.4"/>
<line x1="57.5" y1="1.8" x2="57.5" y2="150.6" stroke="#666" stroke-width="1.3"/>
<line x1="56.8" y1="502.5" x2="849" y2="502.5" stroke="#000" stroke-width="1.4"/>
<line x1="54.3" y1="441.90" x2="57.5" y2="441.90" stroke="#333" stroke-width="1.1"/><line x1="54.3" y1="348.15" x2="57.5" y2="348.15" stroke="#333" stroke-width="1.1"/><line x1="54.3" y1="254.40" x2="57.5" y2="254.40" stroke="#333" stroke-width="1.1"/><line x1="54.3" y1="160.65" x2="57.5" y2="160.65" stroke="#333" stroke-width="1.1"/><line x1="54.3" y1="66.90" x2="57.5" y2="66.90" stroke="#888" stroke-width="1.1"/><line x1="206.15" y1="502.5" x2="206.15" y2="505.8" stroke="#333" stroke-width="1.1"/><line x1="453.35" y1="502.5" x2="453.35" y2="505.8" stroke="#333" stroke-width="1.1"/><line x1="700.80" y1="502.5" x2="700.80" y2="505.8" stroke="#333" stroke-width="1.1"/>
<g font-size="17" fill="#3a3a3a"><text x="51.7" y="447.90" text-anchor="end">0.0</text><text x="51.7" y="354.15" text-anchor="end">0.5</text><text x="51.7" y="260.40" text-anchor="end">1.0</text><text x="51.7" y="166.65" text-anchor="end">1.5</text><text x="51.7" y="72.90" text-anchor="end">2.0</text><text x="206.15" y="520.6" text-anchor="middle">2016</text><text x="453.35" y="520.6" text-anchor="middle">2017</text><text x="700.80" y="520.6" text-anchor="middle">2018</text></g>
<g font-size="15" fill="#1a1a1a"><rect x="61" y="6" width="34" height="33.8" fill="#0000FF"/><text x="102.3" y="28.7" textLength="102.2" lengthAdjust="spacingAndGlyphs">Juvenile (n=12)</text><rect x="61" y="40.9" width="34" height="33.8" fill="#FF0000"/><text x="102.3" y="63.6" textLength="98.8" lengthAdjust="spacingAndGlyphs">Spring (n=164)</text><rect x="61" y="75.2" width="34" height="34" fill="#00FFFF"/><text x="102.3" y="98.1" textLength="101.3" lengthAdjust="spacingAndGlyphs">Summer (n=16)</text><rect x="61" y="110.2" width="34" height="33.6" fill="#000000"/><text x="102.3" y="132.2" textLength="90.6" lengthAdjust="spacingAndGlyphs">Winter (n=44)</text></g>
<text x="453.2" y="545.5" text-anchor="middle" font-size="25" font-weight="bold" fill="#000">Year</text>
<text transform="translate(20,251.95) rotate(-90)" text-anchor="middle" font-size="25" textLength="297" lengthAdjust="spacingAndGlyphs" font-weight="bold" fill="#000">Diet Diversity in Feces(%)</text>
</svg>
</body></html>
